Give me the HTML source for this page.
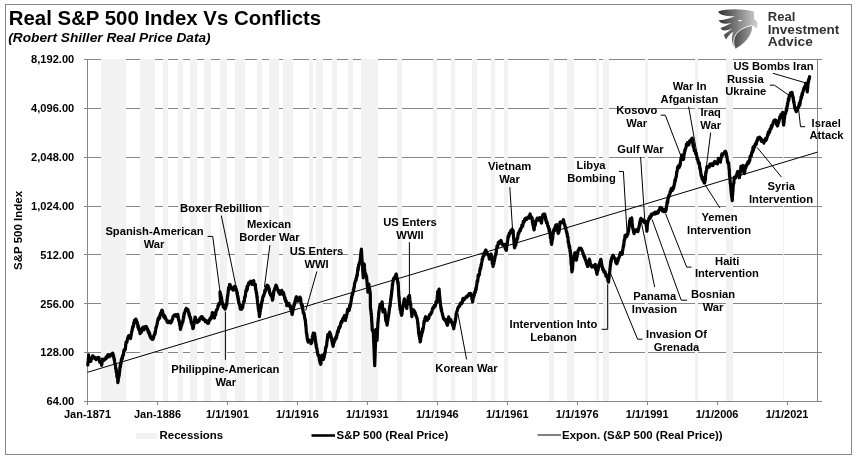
<!DOCTYPE html>
<html><head><meta charset="utf-8"><title>Real S&amp;P 500 Index Vs Conflicts</title>
<style>html,body{margin:0;padding:0;background:#fff}body{width:860px;height:459px;position:relative;overflow:hidden;font-family:"Liberation Sans",sans-serif}</style></head>
<body>
<svg width="860" height="459" viewBox="0 0 860 459" style="position:absolute;left:0;top:0;will-change:transform;opacity:0.999">
<rect x="0" y="0" width="860" height="459" fill="#fff"/>
<rect x="5.5" y="4.5" width="846" height="450" fill="#fff" stroke="#858585" stroke-width="1"/>
<line x1="84" y1="59.5" x2="822" y2="59.5" stroke="#868686" stroke-width="1"/>
<line x1="84" y1="108.5" x2="822" y2="108.5" stroke="#868686" stroke-width="1"/>
<line x1="84" y1="157.5" x2="822" y2="157.5" stroke="#868686" stroke-width="1"/>
<line x1="84" y1="206.5" x2="822" y2="206.5" stroke="#868686" stroke-width="1"/>
<line x1="84" y1="254.5" x2="822" y2="254.5" stroke="#868686" stroke-width="1"/>
<line x1="84" y1="303.5" x2="822" y2="303.5" stroke="#868686" stroke-width="1"/>
<line x1="84" y1="352.5" x2="822" y2="352.5" stroke="#868686" stroke-width="1"/>
<line x1="84" y1="401.5" x2="822" y2="401.5" stroke="#868686" stroke-width="1"/>
<rect x="101" y="59" width="25" height="342" fill="#f2f2f2"/>
<rect x="140" y="59" width="15" height="342" fill="#f2f2f2"/>
<rect x="163" y="59" width="5" height="342" fill="#f2f2f2"/>
<rect x="178" y="59" width="5" height="342" fill="#f2f2f2"/>
<rect x="190" y="59" width="7" height="342" fill="#f2f2f2"/>
<rect x="204" y="59" width="7" height="342" fill="#f2f2f2"/>
<rect x="220" y="59" width="7" height="342" fill="#f2f2f2"/>
<rect x="235" y="59" width="10" height="342" fill="#f2f2f2"/>
<rect x="257" y="59" width="5" height="342" fill="#f2f2f2"/>
<rect x="269" y="59" width="10" height="342" fill="#f2f2f2"/>
<rect x="283" y="59" width="10" height="342" fill="#f2f2f2"/>
<rect x="309" y="59" width="4" height="342" fill="#f2f2f2"/>
<rect x="316" y="59" width="7" height="342" fill="#f2f2f2"/>
<rect x="332" y="59" width="5" height="342" fill="#f2f2f2"/>
<rect x="348" y="59" width="5" height="342" fill="#f2f2f2"/>
<rect x="361" y="59" width="17" height="342" fill="#f2f2f2"/>
<rect x="397" y="59" width="5" height="342" fill="#f2f2f2"/>
<rect x="433" y="59" width="4" height="342" fill="#f2f2f2"/>
<rect x="451" y="59" width="4" height="342" fill="#f2f2f2"/>
<rect x="472" y="59" width="5" height="342" fill="#f2f2f2"/>
<rect x="491" y="59" width="4" height="342" fill="#f2f2f2"/>
<rect x="504" y="59" width="4" height="342" fill="#f2f2f2"/>
<rect x="549" y="59" width="5" height="342" fill="#f2f2f2"/>
<rect x="567" y="59" width="7" height="342" fill="#f2f2f2"/>
<rect x="596" y="59" width="3" height="342" fill="#f2f2f2"/>
<rect x="603" y="59" width="6" height="342" fill="#f2f2f2"/>
<rect x="645" y="59" width="3" height="342" fill="#f2f2f2"/>
<rect x="695" y="59" width="3" height="342" fill="#f2f2f2"/>
<rect x="726" y="59" width="7" height="342" fill="#f2f2f2"/>
<rect x="783" y="59" width="1" height="342" fill="#f2f2f2"/>
<line x1="87.5" y1="59" x2="87.5" y2="402" stroke="#868686" stroke-width="1"/>
<line x1="817.5" y1="59" x2="817.5" y2="402" stroke="#868686" stroke-width="1"/>
<line x1="84" y1="401.5" x2="822" y2="401.5" stroke="#868686" stroke-width="1"/>
<line x1="87.5" y1="401" x2="87.5" y2="405" stroke="#868686" stroke-width="1"/>
<line x1="157.5" y1="401" x2="157.5" y2="405" stroke="#868686" stroke-width="1"/>
<line x1="227.5" y1="401" x2="227.5" y2="405" stroke="#868686" stroke-width="1"/>
<line x1="297.5" y1="401" x2="297.5" y2="405" stroke="#868686" stroke-width="1"/>
<line x1="367.5" y1="401" x2="367.5" y2="405" stroke="#868686" stroke-width="1"/>
<line x1="437.5" y1="401" x2="437.5" y2="405" stroke="#868686" stroke-width="1"/>
<line x1="507.5" y1="401" x2="507.5" y2="405" stroke="#868686" stroke-width="1"/>
<line x1="577.5" y1="401" x2="577.5" y2="405" stroke="#868686" stroke-width="1"/>
<line x1="647.5" y1="401" x2="647.5" y2="405" stroke="#868686" stroke-width="1"/>
<line x1="717.5" y1="401" x2="717.5" y2="405" stroke="#868686" stroke-width="1"/>
<line x1="787.5" y1="401" x2="787.5" y2="405" stroke="#868686" stroke-width="1"/>
<line x1="87.5" y1="372.3" x2="817.5" y2="152.1" stroke="#000" stroke-width="1"/>
<path d="M87.80,364.90 L87.84,364.93 L87.89,364.15 L87.93,363.44 L87.98,362.36 L88.02,362.12 L88.07,362.82 L88.11,362.45 L88.16,362.52 L88.20,361.73 L88.24,361.20 L88.29,360.54 L88.33,358.50 L88.38,359.16 L88.42,359.03 L88.47,358.75 L88.51,356.66 L88.56,355.26 L88.60,354.95 L88.74,355.84 L88.88,357.16 L89.01,357.82 L89.15,358.84 L89.29,358.70 L89.42,359.59 L89.56,360.36 L89.70,360.16 L90.08,361.42 L90.45,361.08 L90.83,361.29 L91.20,359.86 L91.41,358.71 L91.63,358.22 L91.84,357.95 L92.06,358.21 L92.27,357.86 L92.49,356.95 L92.70,355.86 L93.13,356.16 L93.57,357.85 L94.00,357.33 L94.45,357.94 L94.90,358.53 L95.35,357.46 L95.80,358.19 L96.25,359.70 L96.70,358.03 L97.17,358.00 L97.65,358.02 L98.12,357.34 L98.60,357.86 L98.79,358.31 L98.98,357.64 L99.17,359.27 L99.36,360.24 L99.55,361.18 L99.74,362.28 L99.93,362.23 L100.12,362.21 L100.31,361.27 L100.50,362.45 L100.68,362.37 L100.87,362.66 L101.05,362.39 L101.23,362.68 L101.42,363.40 L101.60,365.44 L101.68,363.23 L101.77,362.27 L101.85,362.87 L101.94,363.94 L102.02,363.65 L102.11,361.33 L102.19,359.82 L102.28,360.60 L102.36,359.96 L102.45,359.10 L102.53,360.07 L102.62,360.50 L102.70,359.79 L103.20,359.52 L103.70,359.43 L104.20,360.20 L104.65,359.74 L105.10,359.31 L105.55,358.99 L106.00,357.05 L106.38,357.97 L106.76,358.05 L107.14,357.59 L107.52,355.19 L107.90,354.76 L108.40,356.19 L108.90,355.02 L109.40,355.80 L109.62,356.56 L109.83,354.94 L110.05,356.14 L110.27,355.77 L110.48,354.81 L110.70,354.45 L111.17,354.51 L111.65,354.01 L112.12,354.43 L112.60,353.13 L112.75,353.21 L112.90,354.61 L113.05,354.80 L113.20,354.39 L113.35,355.82 L113.50,357.22 L113.59,356.67 L113.69,355.83 L113.78,356.55 L113.88,357.14 L113.97,357.54 L114.07,359.30 L114.16,358.55 L114.26,360.14 L114.35,359.22 L114.45,359.30 L114.54,360.65 L114.64,361.99 L114.73,362.71 L114.83,362.90 L114.92,363.04 L115.02,363.33 L115.11,364.02 L115.21,364.01 L115.30,364.56 L115.37,365.31 L115.44,365.48 L115.50,366.39 L115.57,366.94 L115.64,368.59 L115.71,368.38 L115.78,367.88 L115.85,367.85 L115.91,368.33 L115.98,369.54 L116.05,369.42 L116.12,370.13 L116.19,371.88 L116.25,369.58 L116.32,369.66 L116.39,370.99 L116.46,372.05 L116.53,372.71 L116.60,372.76 L116.66,373.85 L116.73,374.37 L116.80,374.23 L116.88,376.69 L116.95,376.62 L117.02,376.07 L117.10,376.34 L117.17,376.60 L117.25,377.09 L117.33,375.58 L117.40,376.61 L117.47,378.57 L117.55,378.14 L117.62,378.98 L117.70,380.46 L117.78,381.41 L117.85,382.64 L117.92,381.01 L118.00,381.39 L118.07,380.88 L118.14,381.15 L118.21,381.46 L118.28,378.44 L118.34,379.54 L118.41,377.94 L118.48,378.53 L118.55,376.92 L118.62,377.15 L118.69,377.86 L118.76,376.98 L118.82,376.56 L118.89,376.59 L118.96,375.88 L119.03,375.10 L119.10,375.73 L119.17,375.50 L119.24,374.10 L119.30,375.11 L119.37,372.80 L119.44,372.94 L119.51,371.88 L119.58,371.40 L119.65,371.38 L119.71,370.78 L119.78,370.57 L119.85,368.54 L119.92,367.23 L119.99,367.97 L120.05,366.93 L120.12,366.10 L120.19,365.08 L120.26,366.47 L120.33,366.62 L120.40,367.06 L120.46,365.20 L120.53,364.70 L120.60,363.32 L120.69,363.86 L120.79,364.59 L120.88,362.83 L120.97,363.58 L121.06,363.34 L121.16,362.08 L121.25,359.76 L121.34,360.94 L121.44,360.20 L121.53,359.18 L121.62,359.20 L121.71,359.01 L121.81,359.55 L121.90,357.66 L122.06,358.15 L122.23,358.50 L122.39,358.48 L122.55,356.99 L122.71,355.53 L122.88,355.93 L123.04,355.24 L123.20,354.68 L123.37,355.18 L123.53,353.91 L123.70,351.41 L123.87,351.34 L124.03,349.93 L124.20,351.06 L124.37,351.08 L124.53,350.16 L124.70,349.92 L124.80,350.24 L124.90,349.61 L125.00,350.04 L125.10,348.97 L125.20,349.04 L125.30,349.23 L125.40,349.05 L125.50,347.11 L125.60,347.06 L125.70,344.65 L125.80,343.74 L125.90,342.53 L126.00,343.85 L126.10,342.56 L126.23,342.60 L126.36,342.28 L126.49,342.02 L126.62,341.23 L126.75,341.24 L126.88,342.26 L127.01,341.24 L127.14,340.86 L127.27,340.81 L127.40,339.63 L127.66,337.94 L127.92,337.36 L128.18,338.11 L128.44,336.18 L128.70,335.74 L129.17,337.21 L129.65,337.94 L130.12,337.81 L130.60,338.46 L130.72,337.74 L130.83,336.08 L130.95,334.66 L131.06,334.39 L131.18,335.27 L131.29,334.37 L131.41,333.41 L131.52,332.77 L131.64,331.61 L131.75,331.89 L131.87,330.99 L131.98,331.50 L132.10,329.50 L132.19,330.24 L132.28,329.67 L132.38,328.12 L132.47,329.16 L132.56,328.73 L132.65,326.75 L132.74,326.52 L132.83,327.10 L132.92,326.62 L133.02,327.12 L133.11,327.16 L133.20,326.90 L133.31,326.29 L133.42,326.55 L133.53,325.95 L133.64,325.24 L133.75,322.66 L133.86,323.37 L133.97,323.88 L134.08,322.69 L134.19,321.70 L134.30,322.84 L134.51,320.35 L134.73,320.53 L134.94,321.96 L135.16,319.90 L135.37,319.84 L135.59,320.54 L135.80,319.14 L135.94,319.63 L136.08,320.39 L136.21,319.59 L136.35,320.01 L136.49,320.76 L136.62,321.80 L136.76,321.91 L136.90,322.06 L137.03,321.69 L137.16,322.20 L137.29,323.68 L137.42,324.07 L137.55,323.74 L137.68,323.77 L137.82,326.75 L137.95,327.39 L138.08,327.56 L138.21,325.31 L138.34,326.80 L138.47,327.72 L138.60,329.38 L138.76,329.48 L138.92,329.35 L139.07,329.93 L139.23,328.50 L139.39,330.26 L139.55,330.86 L139.71,330.58 L139.87,332.22 L140.03,333.69 L140.18,332.17 L140.34,332.11 L140.50,333.02 L140.65,332.77 L140.80,331.98 L140.95,330.89 L141.10,332.54 L141.25,332.39 L141.40,330.36 L141.55,328.93 L141.70,330.35 L141.85,330.37 L142.00,330.85 L142.15,330.11 L142.30,328.19 L142.68,328.65 L143.06,327.16 L143.44,327.63 L143.82,328.60 L144.20,329.76 L144.36,328.73 L144.52,328.42 L144.69,328.50 L144.85,328.27 L145.01,328.13 L145.18,327.50 L145.34,326.52 L145.50,326.65 L145.76,326.80 L146.01,326.37 L146.27,326.47 L146.53,327.20 L146.79,327.69 L147.04,328.35 L147.30,328.77 L147.45,329.36 L147.59,329.62 L147.74,329.08 L147.88,330.30 L148.03,331.66 L148.18,332.12 L148.32,332.07 L148.47,332.74 L148.62,332.19 L148.76,331.34 L148.91,332.62 L149.05,332.73 L149.20,334.30 L149.39,333.95 L149.57,333.22 L149.76,333.81 L149.95,336.41 L150.14,336.50 L150.32,335.98 L150.51,336.38 L150.70,337.82 L151.17,338.34 L151.65,338.37 L152.12,339.42 L152.60,339.38 L152.80,338.38 L153.00,338.13 L153.20,338.64 L153.40,338.19 L153.60,337.81 L153.80,335.75 L154.00,335.17 L154.20,335.36 L154.40,334.47 L154.50,334.84 L154.60,334.47 L154.70,334.31 L154.80,333.15 L154.90,334.29 L155.00,333.85 L155.10,332.29 L155.20,331.48 L155.30,332.52 L155.40,330.86 L155.50,330.71 L155.60,330.51 L155.70,329.44 L155.80,327.72 L155.90,327.65 L156.00,327.54 L156.10,327.89 L156.20,327.61 L156.30,326.66 L156.45,326.58 L156.60,326.08 L156.75,325.33 L156.90,324.60 L157.05,323.76 L157.20,323.82 L157.35,322.27 L157.50,321.55 L157.65,321.45 L157.80,320.03 L157.95,319.85 L158.10,318.40 L158.28,318.38 L158.45,319.16 L158.63,319.39 L158.81,318.83 L158.98,318.19 L159.16,316.72 L159.34,318.26 L159.52,317.89 L159.69,317.94 L159.87,316.22 L160.05,315.63 L160.22,313.83 L160.40,314.69 L160.61,315.12 L160.83,312.95 L161.04,313.02 L161.26,313.42 L161.47,311.58 L161.69,310.40 L161.90,310.11 L162.16,310.91 L162.41,310.92 L162.67,312.24 L162.93,313.31 L163.19,314.39 L163.44,315.21 L163.70,316.47 L163.87,317.10 L164.05,315.68 L164.22,315.73 L164.39,315.50 L164.56,315.55 L164.74,316.56 L164.91,317.36 L165.08,318.38 L165.25,317.49 L165.43,317.46 L165.60,318.59 L165.88,319.22 L166.16,319.65 L166.44,320.26 L166.72,320.21 L167.00,321.51 L167.28,322.12 L167.56,322.28 L167.84,322.07 L168.12,322.53 L168.40,321.20 L168.88,321.37 L169.36,322.27 L169.84,321.55 L170.32,322.49 L170.80,322.97 L170.97,321.60 L171.14,321.55 L171.31,321.27 L171.48,321.53 L171.65,321.60 L171.82,320.94 L171.98,319.74 L172.15,319.44 L172.32,319.14 L172.49,319.42 L172.66,319.03 L172.83,317.82 L173.00,316.46 L173.38,316.34 L173.76,315.82 L174.14,315.07 L174.52,315.27 L174.90,314.91 L175.27,315.09 L175.63,315.39 L176.00,314.68 L176.37,316.31 L176.73,314.99 L177.10,315.25 L177.29,315.24 L177.47,316.23 L177.66,314.24 L177.85,314.62 L178.04,315.83 L178.22,316.99 L178.41,319.19 L178.60,319.03 L178.68,319.88 L178.77,320.15 L178.85,320.63 L178.93,320.76 L179.01,320.50 L179.10,321.08 L179.18,320.35 L179.26,321.93 L179.34,321.27 L179.43,322.10 L179.51,324.23 L179.59,323.75 L179.67,323.88 L179.76,325.05 L179.84,325.00 L179.92,324.52 L180.00,325.29 L180.09,326.17 L180.17,326.95 L180.25,326.42 L180.33,328.31 L180.42,329.48 L180.50,329.03 L180.64,328.30 L180.78,327.16 L180.92,327.79 L181.05,326.27 L181.19,326.33 L181.33,325.26 L181.47,324.31 L181.61,324.70 L181.75,325.21 L181.88,324.24 L182.02,322.98 L182.16,323.27 L182.30,322.56 L182.42,322.22 L182.54,322.79 L182.66,322.58 L182.78,320.96 L182.89,322.07 L183.01,320.67 L183.13,320.31 L183.25,318.78 L183.37,318.20 L183.49,316.33 L183.61,317.88 L183.72,318.19 L183.84,316.12 L183.96,314.55 L184.08,313.38 L184.20,314.74 L184.35,314.02 L184.49,313.74 L184.64,313.19 L184.79,312.85 L184.93,311.70 L185.08,311.75 L185.23,310.43 L185.37,310.59 L185.52,310.78 L185.67,310.81 L185.81,310.09 L185.96,308.96 L186.11,308.99 L186.25,308.30 L186.40,309.34 L186.67,309.93 L186.93,309.75 L187.20,309.55 L187.47,309.45 L187.73,309.39 L188.00,310.00 L188.27,311.03 L188.53,311.96 L188.80,312.70 L188.91,314.52 L189.02,313.52 L189.13,313.73 L189.23,315.97 L189.34,314.00 L189.45,314.18 L189.56,315.02 L189.67,315.67 L189.78,316.42 L189.89,316.53 L190.00,317.26 L190.10,317.62 L190.21,318.58 L190.32,317.21 L190.43,317.45 L190.54,318.48 L190.65,318.43 L190.76,318.60 L190.87,320.20 L190.97,320.28 L191.08,321.53 L191.19,322.51 L191.30,322.90 L191.44,323.46 L191.58,323.48 L191.72,322.66 L191.85,323.49 L191.99,324.52 L192.13,324.50 L192.27,325.03 L192.41,326.18 L192.55,325.72 L192.68,326.86 L192.82,328.65 L192.96,327.92 L193.10,328.26 L193.19,327.54 L193.28,328.27 L193.37,327.51 L193.46,327.35 L193.55,325.82 L193.64,325.30 L193.73,324.82 L193.82,322.97 L193.91,324.29 L194.00,324.38 L194.10,322.15 L194.19,322.69 L194.28,322.10 L194.37,322.03 L194.46,321.73 L194.55,319.89 L194.64,319.70 L194.73,320.73 L194.82,319.48 L194.91,318.23 L195.00,317.08 L195.36,317.18 L195.72,318.64 L196.08,320.67 L196.44,320.97 L196.80,321.16 L197.26,322.60 L197.72,321.25 L198.18,320.38 L198.64,320.85 L199.10,321.12 L199.38,319.66 L199.66,318.57 L199.94,318.94 L200.22,318.95 L200.50,317.55 L200.78,317.48 L201.06,317.01 L201.34,317.36 L201.62,316.94 L201.90,316.55 L202.26,316.72 L202.62,318.09 L202.98,319.28 L203.34,318.72 L203.70,319.54 L204.08,318.90 L204.46,319.37 L204.84,320.34 L205.22,321.64 L205.60,321.04 L205.87,321.15 L206.13,321.61 L206.40,320.71 L206.67,321.59 L206.93,321.72 L207.20,322.80 L207.47,322.40 L207.73,321.69 L208.00,323.08 L208.17,323.36 L208.34,322.68 L208.51,323.25 L208.68,322.45 L208.85,321.55 L209.02,321.72 L209.18,320.01 L209.35,319.57 L209.52,319.66 L209.69,320.19 L209.86,319.50 L210.03,319.29 L210.20,318.23 L210.41,318.22 L210.62,319.09 L210.83,317.54 L211.04,318.90 L211.25,317.08 L211.45,316.42 L211.66,315.99 L211.87,316.24 L212.08,314.40 L212.29,312.53 L212.50,313.44 L212.76,314.70 L213.01,315.44 L213.27,317.26 L213.53,316.86 L213.79,316.85 L214.04,317.55 L214.30,317.67 L214.46,318.11 L214.62,315.87 L214.78,315.13 L214.94,312.87 L215.10,314.02 L215.26,313.52 L215.42,314.08 L215.58,315.16 L215.74,313.85 L215.90,312.75 L216.06,311.75 L216.22,310.74 L216.38,310.15 L216.54,310.63 L216.70,310.23 L216.86,309.81 L217.02,309.18 L217.17,309.49 L217.33,309.12 L217.49,308.21 L217.65,308.14 L217.81,307.25 L217.97,305.77 L218.12,306.80 L218.28,306.38 L218.44,304.83 L218.60,305.37 L218.87,304.94 L219.14,303.02 L219.41,304.28 L219.69,303.79 L219.96,303.78 L220.23,303.05 L220.50,302.20 L220.48,300.39 L220.46,301.18 L220.43,300.67 L220.41,299.93 L220.39,299.83 L220.37,299.35 L220.35,299.36 L220.33,298.33 L220.30,297.83 L220.28,295.69 L220.26,295.67 L220.24,296.31 L220.22,296.99 L220.20,295.81 L220.17,295.16 L220.15,295.93 L220.13,294.65 L220.11,294.58 L220.09,295.08 L220.07,293.86 L220.04,293.92 L220.02,292.23 L220.00,291.82 L220.09,292.06 L220.18,292.54 L220.27,293.80 L220.36,295.37 L220.45,294.35 L220.54,294.05 L220.63,294.93 L220.72,294.40 L220.81,295.52 L220.90,296.40 L221.00,296.41 L221.09,297.25 L221.18,296.28 L221.27,297.76 L221.36,296.96 L221.45,297.39 L221.54,297.93 L221.63,298.55 L221.72,300.08 L221.81,300.52 L221.90,300.57 L222.04,301.53 L222.18,303.07 L222.32,302.87 L222.45,303.24 L222.59,304.32 L222.73,304.35 L222.87,303.34 L223.01,305.94 L223.15,306.78 L223.28,304.70 L223.42,305.28 L223.56,306.16 L223.70,307.26 L223.97,307.80 L224.24,307.54 L224.51,306.96 L224.79,307.73 L225.06,309.06 L225.33,308.31 L225.60,308.12 L225.68,308.12 L225.77,306.40 L225.85,306.57 L225.93,306.31 L226.02,306.66 L226.10,305.73 L226.18,304.87 L226.27,304.57 L226.35,304.47 L226.43,303.72 L226.52,303.63 L226.60,303.95 L226.68,304.26 L226.77,304.63 L226.85,302.66 L226.93,301.66 L227.02,299.27 L227.10,301.20 L227.15,299.99 L227.21,299.65 L227.26,299.70 L227.32,298.04 L227.37,298.35 L227.43,297.93 L227.48,296.07 L227.53,296.51 L227.59,297.25 L227.64,295.04 L227.70,295.73 L227.75,295.42 L227.80,295.26 L227.86,294.93 L227.91,295.22 L227.97,293.97 L228.02,293.94 L228.07,292.70 L228.13,292.71 L228.18,291.29 L228.24,290.86 L228.29,291.86 L228.35,291.19 L228.40,290.14 L228.51,288.58 L228.62,287.78 L228.72,287.91 L228.83,288.36 L228.94,287.99 L229.05,287.66 L229.16,286.82 L229.27,287.24 L229.38,285.89 L229.48,284.82 L229.59,285.15 L229.70,284.47 L229.85,284.54 L230.00,284.56 L230.15,285.02 L230.30,286.18 L230.45,286.81 L230.60,286.13 L230.75,287.26 L230.90,287.89 L231.05,287.51 L231.20,288.91 L231.65,288.59 L232.10,288.38 L232.55,289.15 L233.00,289.99 L233.27,288.47 L233.54,288.34 L233.81,287.05 L234.09,288.67 L234.36,287.18 L234.63,287.50 L234.90,286.05 L235.04,287.05 L235.18,288.86 L235.32,286.35 L235.45,286.82 L235.59,288.00 L235.73,288.38 L235.87,288.33 L236.01,290.72 L236.15,290.60 L236.28,289.36 L236.42,290.85 L236.56,289.83 L236.70,291.72 L236.79,291.61 L236.88,292.32 L236.97,293.78 L237.06,293.89 L237.15,292.96 L237.24,292.41 L237.33,294.57 L237.42,295.61 L237.51,295.15 L237.60,296.42 L237.70,297.03 L237.79,297.69 L237.88,295.96 L237.97,296.75 L238.06,298.33 L238.15,299.27 L238.24,300.10 L238.33,298.12 L238.42,299.31 L238.51,300.41 L238.60,302.84 L238.70,301.61 L238.80,301.63 L238.90,302.12 L239.00,303.26 L239.10,303.04 L239.20,304.37 L239.30,303.78 L239.40,304.48 L239.50,304.44 L239.60,305.16 L239.70,305.09 L239.80,304.53 L239.90,306.54 L240.00,307.23 L240.10,307.12 L240.20,307.86 L240.30,309.09 L240.40,308.41 L240.50,308.92 L240.95,309.25 L241.40,309.31 L241.85,308.57 L242.30,306.67 L242.41,307.94 L242.52,307.72 L242.64,307.15 L242.75,306.41 L242.86,306.23 L242.97,305.39 L243.08,304.26 L243.19,303.67 L243.31,303.25 L243.42,302.81 L243.53,301.94 L243.64,302.68 L243.75,301.35 L243.86,301.98 L243.98,300.80 L244.09,301.03 L244.20,301.77 L244.29,301.05 L244.37,299.72 L244.46,299.40 L244.54,299.11 L244.63,297.26 L244.71,296.94 L244.80,297.17 L244.89,296.59 L244.97,296.51 L245.06,296.78 L245.14,296.76 L245.23,296.66 L245.31,296.15 L245.40,294.98 L245.49,294.35 L245.57,293.61 L245.66,292.97 L245.74,292.52 L245.83,290.86 L245.91,290.84 L246.00,290.87 L246.15,289.96 L246.29,290.01 L246.44,290.27 L246.58,289.68 L246.73,290.93 L246.88,287.73 L247.02,287.67 L247.17,286.17 L247.32,287.36 L247.46,289.14 L247.61,285.86 L247.75,285.94 L247.90,286.09 L248.11,285.36 L248.32,285.44 L248.53,283.10 L248.74,284.06 L248.96,284.03 L249.17,283.55 L249.38,282.63 L249.59,282.90 L249.80,281.97 L250.17,282.57 L250.53,282.46 L250.90,281.18 L251.27,282.36 L251.63,283.33 L252.00,284.45 L252.21,283.20 L252.43,283.00 L252.64,283.22 L252.86,282.79 L253.07,283.24 L253.29,283.80 L253.50,281.74 L253.68,280.49 L253.86,282.20 L254.04,283.87 L254.22,284.52 L254.40,285.00 L254.58,284.34 L254.76,284.11 L254.94,285.46 L255.12,284.98 L255.30,284.22 L255.37,284.64 L255.43,287.83 L255.50,289.33 L255.56,288.31 L255.63,287.92 L255.69,288.66 L255.76,288.50 L255.82,290.24 L255.89,290.30 L255.96,289.75 L256.02,291.53 L256.09,291.23 L256.15,291.89 L256.22,292.28 L256.28,292.46 L256.35,293.26 L256.41,293.11 L256.48,292.32 L256.54,292.38 L256.61,292.83 L256.68,293.63 L256.74,294.86 L256.81,295.79 L256.87,296.91 L256.94,297.38 L257.00,297.12 L257.07,297.25 L257.13,296.45 L257.20,297.71 L257.26,299.12 L257.33,300.14 L257.39,300.39 L257.45,300.69 L257.51,301.93 L257.58,302.09 L257.64,302.95 L257.70,303.51 L257.77,303.72 L257.83,304.91 L257.89,304.28 L257.95,304.31 L258.02,304.17 L258.08,304.31 L258.14,306.44 L258.21,307.98 L258.27,307.66 L258.33,308.11 L258.39,309.05 L258.46,309.47 L258.52,310.22 L258.58,308.90 L258.65,308.86 L258.71,309.90 L258.77,311.45 L258.83,311.46 L258.90,310.91 L258.96,311.21 L259.02,311.33 L259.09,311.45 L259.15,313.58 L259.21,313.27 L259.27,313.82 L259.34,316.01 L259.40,316.65 L259.48,315.63 L259.57,314.13 L259.65,313.90 L259.73,314.53 L259.81,313.89 L259.90,313.84 L259.98,312.69 L260.06,312.19 L260.14,311.15 L260.23,310.86 L260.31,311.20 L260.39,309.03 L260.47,308.71 L260.56,308.57 L260.64,307.66 L260.72,307.16 L260.80,307.54 L260.89,308.51 L260.97,307.76 L261.05,306.91 L261.13,304.76 L261.22,306.12 L261.30,305.20 L261.41,304.42 L261.53,302.93 L261.64,302.75 L261.76,301.63 L261.87,301.74 L261.99,301.91 L262.10,301.46 L262.21,301.21 L262.33,299.98 L262.44,300.91 L262.56,299.57 L262.67,297.72 L262.79,297.79 L262.90,297.17 L263.01,296.44 L263.13,296.36 L263.24,296.62 L263.36,295.40 L263.47,295.36 L263.59,296.37 L263.70,296.14 L263.86,295.14 L264.02,294.60 L264.18,293.91 L264.33,293.37 L264.49,293.49 L264.65,292.70 L264.81,290.23 L264.97,290.55 L265.12,289.83 L265.28,290.45 L265.44,289.58 L265.60,289.50 L265.86,290.91 L266.11,288.96 L266.37,287.65 L266.63,286.52 L266.89,285.60 L267.14,285.20 L267.40,286.03 L267.67,286.32 L267.94,285.69 L268.21,286.00 L268.49,287.83 L268.76,287.92 L269.03,288.47 L269.30,289.51 L269.46,291.12 L269.62,292.67 L269.77,293.02 L269.93,292.72 L270.09,292.79 L270.25,294.31 L270.41,295.01 L270.57,294.28 L270.73,294.69 L270.88,294.98 L271.04,295.17 L271.20,295.04 L271.36,294.54 L271.52,295.11 L271.69,294.84 L271.85,297.08 L272.01,297.99 L272.18,297.33 L272.34,299.23 L272.50,300.09 L272.59,297.63 L272.69,299.02 L272.78,298.76 L272.88,299.23 L272.97,296.84 L273.06,296.71 L273.16,296.34 L273.25,295.75 L273.34,295.19 L273.44,295.37 L273.53,293.25 L273.62,292.07 L273.72,291.09 L273.81,291.00 L273.91,290.70 L274.00,291.09 L274.13,291.02 L274.26,290.59 L274.39,289.58 L274.51,289.01 L274.64,289.58 L274.77,289.54 L274.90,288.78 L275.03,287.82 L275.16,288.57 L275.29,287.07 L275.41,287.02 L275.54,287.18 L275.67,285.95 L275.80,285.91 L275.97,285.05 L276.15,286.45 L276.32,286.76 L276.49,285.72 L276.66,287.12 L276.84,286.85 L277.01,288.61 L277.18,288.22 L277.35,288.61 L277.53,289.37 L277.70,289.49 L277.88,290.25 L278.06,290.23 L278.24,291.40 L278.42,291.72 L278.60,292.26 L278.78,290.44 L278.96,292.72 L279.14,293.30 L279.32,292.39 L279.50,293.58 L279.71,293.86 L279.92,294.30 L280.13,292.67 L280.34,293.66 L280.56,292.67 L280.77,293.93 L280.98,292.46 L281.19,292.12 L281.40,290.92 L281.67,290.30 L281.94,291.88 L282.21,292.78 L282.49,293.95 L282.76,294.24 L283.03,293.45 L283.30,292.34 L283.44,292.73 L283.58,293.13 L283.72,293.43 L283.85,294.89 L283.99,295.68 L284.13,295.84 L284.27,296.47 L284.41,296.76 L284.55,297.40 L284.68,298.37 L284.82,299.26 L284.96,298.64 L285.10,297.85 L285.26,299.95 L285.42,300.28 L285.58,301.44 L285.73,300.13 L285.89,300.64 L286.05,301.41 L286.21,300.89 L286.37,301.53 L286.52,303.07 L286.68,304.40 L286.84,305.75 L287.00,304.76 L287.45,303.31 L287.90,303.93 L288.35,304.50 L288.80,304.12 L289.00,303.33 L289.20,304.74 L289.40,305.74 L289.60,306.31 L289.80,306.01 L290.00,306.68 L290.00,306.98 L290.15,306.62 L290.29,305.61 L290.44,306.96 L290.59,308.01 L290.73,308.42 L290.88,309.53 L291.03,309.17 L291.17,309.57 L291.32,309.81 L291.47,310.82 L291.61,312.38 L291.76,311.98 L291.91,313.77 L292.05,314.37 L292.20,314.48 L292.31,313.70 L292.42,313.92 L292.54,312.39 L292.65,311.40 L292.76,309.92 L292.87,310.11 L292.98,310.70 L293.09,310.19 L293.21,309.62 L293.32,308.62 L293.43,308.16 L293.54,306.46 L293.65,307.27 L293.76,306.37 L293.88,305.13 L293.99,304.52 L294.10,303.94 L294.24,304.74 L294.38,305.15 L294.52,303.28 L294.66,303.85 L294.81,303.94 L294.95,302.63 L295.09,301.01 L295.23,300.50 L295.37,300.11 L295.51,300.47 L295.65,299.92 L295.79,298.11 L295.94,298.70 L296.08,297.43 L296.22,298.46 L296.36,297.17 L296.50,296.67 L296.71,296.92 L296.92,297.48 L297.13,299.43 L297.34,300.33 L297.56,300.82 L297.77,301.05 L297.98,299.89 L298.19,300.24 L298.40,300.60 L298.66,299.84 L298.91,300.41 L299.17,299.55 L299.43,298.93 L299.69,298.14 L299.94,297.00 L300.20,298.01 L300.31,299.81 L300.42,300.09 L300.54,299.53 L300.65,298.36 L300.76,299.89 L300.87,301.74 L300.98,302.24 L301.09,303.21 L301.21,304.37 L301.32,304.94 L301.43,304.21 L301.54,305.18 L301.65,305.70 L301.76,304.36 L301.88,304.72 L301.99,304.31 L302.10,305.32 L302.22,306.63 L302.34,306.27 L302.46,305.50 L302.58,307.92 L302.69,308.74 L302.81,310.26 L302.93,309.10 L303.05,310.55 L303.17,312.35 L303.29,312.93 L303.41,312.28 L303.52,312.51 L303.64,312.51 L303.76,313.62 L303.88,314.48 L304.00,314.40 L304.11,313.44 L304.22,314.77 L304.32,314.76 L304.43,315.83 L304.54,316.34 L304.65,317.90 L304.76,318.59 L304.87,317.93 L304.98,318.40 L305.08,319.99 L305.19,319.26 L305.30,319.83 L305.34,320.95 L305.38,321.82 L305.42,321.93 L305.46,320.76 L305.50,320.36 L305.54,321.54 L305.57,322.51 L305.61,324.95 L305.65,323.82 L305.69,324.98 L305.73,325.54 L305.77,324.13 L305.81,324.24 L305.85,325.28 L305.89,325.55 L305.93,326.17 L305.97,327.21 L306.01,326.98 L306.05,328.07 L306.09,328.01 L306.12,328.26 L306.16,329.46 L306.20,329.45 L306.24,330.33 L306.28,332.06 L306.32,331.98 L306.36,332.01 L306.40,332.93 L306.48,332.78 L306.56,334.05 L306.64,333.10 L306.72,334.28 L306.81,334.26 L306.89,334.22 L306.97,336.44 L307.05,335.81 L307.13,337.72 L307.21,338.12 L307.29,339.18 L307.38,338.06 L307.46,339.37 L307.54,340.50 L307.62,340.10 L307.70,340.07 L308.15,342.03 L308.60,341.44 L309.05,340.75 L309.50,340.31 L309.88,341.15 L310.26,341.69 L310.64,342.02 L311.02,343.58 L311.40,342.99 L311.52,342.63 L311.64,343.01 L311.76,341.06 L311.88,341.40 L311.99,342.00 L312.11,339.61 L312.23,338.29 L312.35,337.40 L312.47,336.14 L312.59,336.98 L312.71,335.41 L312.82,336.20 L312.94,337.17 L313.06,335.09 L313.18,334.75 L313.30,333.10 L313.73,334.27 L314.17,333.58 L314.60,333.44 L314.66,334.24 L314.72,335.28 L314.78,335.35 L314.83,335.89 L314.89,335.95 L314.95,336.71 L315.01,336.32 L315.07,337.29 L315.12,336.46 L315.18,337.35 L315.24,339.94 L315.30,340.13 L315.36,339.38 L315.42,340.38 L315.48,340.16 L315.53,339.72 L315.59,340.40 L315.65,342.15 L315.71,343.04 L315.77,343.36 L315.82,343.09 L315.88,343.03 L315.94,345.11 L316.00,345.60 L316.09,345.11 L316.18,344.13 L316.27,344.43 L316.36,347.77 L316.45,346.95 L316.54,347.54 L316.63,348.29 L316.72,348.61 L316.81,348.90 L316.90,348.39 L317.00,348.56 L317.09,351.01 L317.18,350.64 L317.27,351.89 L317.36,350.78 L317.45,351.48 L317.54,352.49 L317.63,353.86 L317.72,353.11 L317.81,354.25 L317.90,354.91 L318.03,354.58 L318.15,355.55 L318.28,355.19 L318.41,355.27 L318.53,356.12 L318.66,355.00 L318.79,356.29 L318.91,356.50 L319.04,356.44 L319.17,357.42 L319.29,359.09 L319.42,359.28 L319.55,360.90 L319.67,360.08 L319.80,359.70 L319.95,361.97 L320.10,362.52 L320.25,363.47 L320.40,362.80 L320.55,363.93 L320.70,364.33 L320.78,364.14 L320.86,363.34 L320.94,363.62 L321.02,362.10 L321.11,360.81 L321.19,359.49 L321.27,360.63 L321.35,359.56 L321.43,358.52 L321.51,357.82 L321.59,357.62 L321.68,356.65 L321.76,356.68 L321.84,356.22 L321.92,355.82 L322.00,355.07 L322.19,356.16 L322.38,356.58 L322.56,357.47 L322.75,358.27 L322.94,358.99 L323.12,357.60 L323.31,358.35 L323.50,358.77 L323.59,359.51 L323.69,357.86 L323.78,357.43 L323.88,357.31 L323.97,357.01 L324.06,357.68 L324.16,356.71 L324.25,357.07 L324.34,355.15 L324.44,353.62 L324.53,354.95 L324.62,354.86 L324.72,354.64 L324.81,354.03 L324.91,353.76 L325.00,352.07 L325.08,352.63 L325.16,351.56 L325.24,351.96 L325.32,351.26 L325.41,349.04 L325.49,348.15 L325.57,349.35 L325.65,348.81 L325.73,348.09 L325.81,347.99 L325.89,347.20 L325.98,346.45 L326.06,346.35 L326.14,346.11 L326.22,346.85 L326.30,345.88 L326.38,346.61 L326.46,346.41 L326.53,345.97 L326.61,345.42 L326.69,344.18 L326.77,343.31 L326.85,342.41 L326.93,341.25 L327.00,340.93 L327.08,340.11 L327.16,341.25 L327.24,340.81 L327.32,339.60 L327.40,337.57 L327.47,337.72 L327.55,337.32 L327.63,336.38 L327.71,335.62 L327.79,334.67 L327.87,335.62 L327.94,335.45 L328.02,337.23 L328.10,335.96 L328.37,335.01 L328.64,335.56 L328.91,334.66 L329.19,334.00 L329.46,333.04 L329.73,332.14 L330.00,333.13 L330.11,333.97 L330.22,335.20 L330.32,334.46 L330.43,334.56 L330.54,334.11 L330.65,335.53 L330.76,334.66 L330.87,335.94 L330.98,337.26 L331.08,338.45 L331.19,337.47 L331.30,338.73 L331.42,338.21 L331.54,338.10 L331.66,337.80 L331.77,339.80 L331.89,341.49 L332.01,340.87 L332.13,340.60 L332.25,340.99 L332.37,343.66 L332.49,344.15 L332.61,343.41 L332.73,342.22 L332.84,342.66 L332.96,344.58 L333.08,346.37 L333.20,345.89 L333.35,344.58 L333.50,343.79 L333.65,342.06 L333.80,343.11 L333.95,341.91 L334.10,342.73 L334.25,340.80 L334.40,339.87 L334.55,340.38 L334.70,339.62 L334.90,340.27 L335.10,339.83 L335.30,338.47 L335.50,338.95 L335.70,339.21 L335.90,336.99 L336.10,338.53 L336.30,338.15 L336.50,337.96 L336.63,335.58 L336.75,334.97 L336.88,334.73 L337.01,335.52 L337.13,333.76 L337.26,333.05 L337.39,331.72 L337.51,332.04 L337.64,332.47 L337.77,330.92 L337.89,330.72 L338.02,331.29 L338.15,332.25 L338.27,331.85 L338.40,330.67 L338.54,329.08 L338.68,328.16 L338.82,327.65 L338.96,327.78 L339.10,327.48 L339.30,328.52 L339.50,327.83 L339.70,326.19 L339.90,327.16 L340.10,327.05 L340.30,326.13 L340.50,324.79 L340.70,322.97 L340.90,322.45 L341.05,323.48 L341.19,322.50 L341.34,321.36 L341.48,321.74 L341.63,321.79 L341.78,321.90 L341.92,321.81 L342.07,322.17 L342.22,320.39 L342.36,320.66 L342.51,319.06 L342.65,319.31 L342.80,318.85 L343.01,318.48 L343.23,318.67 L343.44,317.82 L343.66,318.06 L343.87,317.83 L344.09,316.94 L344.30,315.71 L344.46,315.58 L344.62,315.89 L344.79,316.52 L344.95,317.22 L345.11,320.11 L345.28,320.13 L345.44,320.45 L345.60,319.56 L345.71,318.46 L345.83,317.96 L345.94,317.88 L346.05,316.66 L346.16,317.87 L346.27,316.61 L346.39,317.00 L346.50,314.32 L346.61,314.47 L346.73,314.57 L346.84,314.35 L346.95,314.35 L347.06,313.88 L347.17,313.32 L347.29,311.19 L347.40,310.74 L347.61,309.49 L347.82,310.52 L348.03,310.65 L348.24,310.14 L348.46,309.18 L348.67,308.65 L348.88,310.09 L349.09,310.61 L349.30,309.30 L349.41,309.42 L349.52,307.03 L349.64,305.24 L349.75,305.20 L349.86,304.67 L349.97,304.43 L350.08,304.69 L350.19,306.86 L350.31,304.96 L350.42,304.27 L350.53,303.88 L350.64,303.22 L350.75,303.41 L350.86,303.99 L350.98,301.73 L351.09,301.39 L351.20,300.68 L351.29,300.57 L351.39,298.83 L351.48,297.49 L351.58,296.93 L351.67,297.85 L351.77,297.89 L351.86,297.62 L351.96,295.35 L352.05,295.48 L352.15,295.04 L352.24,294.09 L352.34,293.76 L352.43,294.65 L352.53,294.82 L352.62,294.26 L352.72,294.18 L352.81,293.06 L352.91,292.78 L353.00,292.39 L353.08,292.37 L353.16,291.66 L353.24,291.00 L353.32,290.44 L353.41,289.52 L353.49,291.07 L353.57,290.36 L353.65,289.70 L353.73,290.34 L353.81,289.88 L353.89,287.24 L353.98,287.36 L354.06,287.33 L354.14,287.93 L354.22,287.56 L354.30,286.76 L354.45,284.57 L354.60,283.40 L354.75,283.44 L354.90,283.43 L355.05,282.02 L355.20,281.53 L355.35,281.04 L355.50,280.92 L355.65,280.86 L355.80,280.12 L355.89,278.77 L355.99,279.76 L356.08,280.38 L356.18,279.18 L356.27,279.19 L356.36,278.54 L356.46,278.14 L356.55,277.57 L356.64,276.07 L356.74,276.09 L356.83,276.24 L356.93,274.61 L357.02,275.76 L357.11,275.93 L357.21,275.46 L357.30,275.00 L357.38,274.18 L357.46,272.67 L357.54,271.42 L357.62,270.36 L357.71,270.30 L357.79,269.94 L357.87,270.09 L357.95,267.84 L358.03,269.81 L358.11,270.38 L358.19,268.95 L358.28,268.51 L358.36,267.90 L358.44,267.20 L358.52,266.22 L358.60,265.55 L358.76,264.40 L358.93,264.35 L359.09,263.94 L359.25,263.78 L359.41,262.55 L359.57,262.37 L359.74,262.06 L359.90,262.11 L359.96,260.63 L360.02,260.77 L360.07,261.09 L360.13,260.75 L360.19,259.59 L360.25,258.65 L360.30,258.13 L360.36,258.40 L360.42,258.98 L360.48,257.75 L360.53,256.48 L360.59,256.38 L360.65,255.98 L360.71,254.68 L360.77,253.89 L360.82,253.75 L360.88,254.07 L360.94,252.57 L361.00,251.68 L361.05,252.17 L361.11,250.88 L361.17,251.01 L361.23,251.07 L361.28,250.53 L361.34,249.31 L361.40,249.18 L361.43,249.62 L361.46,250.59 L361.49,250.41 L361.52,252.04 L361.55,250.96 L361.58,251.76 L361.61,252.55 L361.64,253.95 L361.67,253.69 L361.70,254.66 L361.73,254.53 L361.76,255.70 L361.79,257.33 L361.82,256.76 L361.85,257.31 L361.88,256.75 L361.91,258.14 L361.94,259.30 L361.97,259.23 L362.00,258.47 L362.03,259.47 L362.06,260.82 L362.09,261.73 L362.12,262.21 L362.15,260.61 L362.18,260.84 L362.21,262.83 L362.24,262.05 L362.27,263.68 L362.30,265.38 L362.33,265.63 L362.36,266.25 L362.40,265.66 L362.43,264.83 L362.46,265.46 L362.49,265.93 L362.53,266.52 L362.56,267.63 L362.59,267.78 L362.62,268.33 L362.65,269.02 L362.69,269.26 L362.72,271.06 L362.75,271.14 L362.78,271.11 L362.82,271.07 L362.85,270.92 L362.88,272.59 L362.91,272.77 L362.95,272.11 L362.98,272.35 L363.01,273.03 L363.04,273.36 L363.07,274.95 L363.11,274.25 L363.14,275.38 L363.17,275.93 L363.20,275.39 L363.24,276.26 L363.27,276.84 L363.30,277.82 L363.33,276.92 L363.36,276.81 L363.39,274.99 L363.42,274.25 L363.45,275.11 L363.47,275.58 L363.50,274.81 L363.53,273.72 L363.56,274.24 L363.59,271.82 L363.62,271.31 L363.65,271.98 L363.68,272.13 L363.71,270.69 L363.74,269.01 L363.76,270.52 L363.79,270.12 L363.82,268.88 L363.85,268.74 L363.88,269.12 L363.91,266.38 L363.94,267.58 L363.97,267.75 L364.00,265.42 L364.03,266.18 L364.05,264.38 L364.08,265.49 L364.11,265.32 L364.14,266.48 L364.17,264.66 L364.20,263.94 L364.24,265.08 L364.27,264.58 L364.31,264.47 L364.35,264.88 L364.39,265.56 L364.43,265.34 L364.46,266.66 L364.50,267.65 L364.54,268.03 L364.57,269.73 L364.61,269.28 L364.65,270.53 L364.69,269.97 L364.73,270.89 L364.76,269.49 L364.80,270.61 L364.84,271.15 L364.88,271.40 L364.91,271.65 L364.95,272.21 L364.99,272.44 L365.03,271.77 L365.06,272.71 L365.10,273.47 L365.40,274.02 L365.70,274.06 L366.00,274.97 L366.30,276.36 L366.60,276.47 L366.64,276.59 L366.68,278.32 L366.72,279.17 L366.76,279.80 L366.80,280.54 L366.84,279.97 L366.88,280.02 L366.92,281.23 L366.95,280.79 L366.99,281.09 L367.03,281.85 L367.07,282.47 L367.11,282.50 L367.15,283.71 L367.19,283.67 L367.23,284.56 L367.27,285.52 L367.31,285.93 L367.35,286.42 L367.39,285.40 L367.43,284.92 L367.47,285.41 L367.51,286.74 L367.55,288.48 L367.58,287.50 L367.62,288.37 L367.66,288.13 L367.70,288.30 L367.74,288.96 L367.78,290.29 L367.82,290.84 L367.86,292.11 L367.90,291.31 L367.96,291.63 L368.01,291.63 L368.07,290.75 L368.12,290.38 L368.18,289.14 L368.24,287.84 L368.29,287.46 L368.35,286.85 L368.41,289.09 L368.46,287.46 L368.52,288.03 L368.57,287.00 L368.63,286.31 L368.69,286.06 L368.74,284.52 L368.80,284.80 L368.86,285.24 L368.93,284.21 L368.99,285.51 L369.05,286.40 L369.11,287.02 L369.18,288.45 L369.24,287.88 L369.30,288.50 L369.36,289.24 L369.43,288.55 L369.49,290.04 L369.55,288.98 L369.61,288.72 L369.68,290.22 L369.74,289.98 L369.80,290.83 L369.86,290.30 L369.93,291.56 L369.99,291.52 L370.05,292.87 L370.11,292.34 L370.18,293.82 L370.24,294.28 L370.30,295.00 L370.30,295.49 L370.31,296.13 L370.31,295.54 L370.32,294.93 L370.32,296.36 L370.32,296.59 L370.33,297.30 L370.33,298.60 L370.34,297.61 L370.34,298.24 L370.35,298.91 L370.35,299.14 L370.35,300.56 L370.36,301.17 L370.36,301.19 L370.37,301.27 L370.37,302.93 L370.38,302.90 L370.38,304.07 L370.38,304.81 L370.39,303.58 L370.39,303.74 L370.40,304.90 L370.40,306.00 L370.45,307.17 L370.49,308.04 L370.54,308.90 L370.58,308.48 L370.63,308.58 L370.67,309.62 L370.72,309.46 L370.77,310.74 L370.81,309.58 L370.86,310.91 L370.90,311.20 L370.95,310.15 L371.00,312.10 L371.04,312.86 L371.09,313.26 L371.13,312.82 L371.18,313.27 L371.23,315.28 L371.27,314.75 L371.32,313.35 L371.36,314.08 L371.41,314.42 L371.45,315.66 L371.50,316.34 L371.53,316.52 L371.56,316.89 L371.59,318.78 L371.62,318.08 L371.65,320.57 L371.68,320.19 L371.70,319.76 L371.73,321.21 L371.76,322.04 L371.79,321.44 L371.82,322.73 L371.85,321.62 L371.88,321.93 L371.91,323.93 L371.94,324.15 L371.97,323.66 L372.00,325.03 L372.02,326.31 L372.05,326.48 L372.08,325.39 L372.11,326.14 L372.14,327.37 L372.17,328.53 L372.20,330.23 L372.34,329.72 L372.48,329.46 L372.61,329.88 L372.75,331.29 L372.89,330.59 L373.02,332.18 L373.16,330.07 L373.30,331.91 L373.32,331.96 L373.34,333.09 L373.36,334.09 L373.38,333.38 L373.40,334.05 L373.42,334.88 L373.44,335.82 L373.46,335.34 L373.48,335.23 L373.50,334.64 L373.51,338.04 L373.53,337.96 L373.55,338.10 L373.57,337.37 L373.59,339.09 L373.61,339.08 L373.63,340.84 L373.65,341.55 L373.67,341.48 L373.69,342.21 L373.71,341.37 L373.73,341.73 L373.75,341.93 L373.77,341.70 L373.79,342.79 L373.81,343.47 L373.83,345.29 L373.85,342.80 L373.87,343.67 L373.89,344.16 L373.90,344.99 L373.92,346.35 L373.94,347.29 L373.96,347.71 L373.98,347.75 L374.00,348.74 L374.02,349.38 L374.04,348.21 L374.06,349.01 L374.08,348.78 L374.10,349.01 L374.12,350.38 L374.14,351.27 L374.15,352.01 L374.17,351.84 L374.19,352.48 L374.21,352.47 L374.23,353.69 L374.25,354.81 L374.26,356.46 L374.28,357.19 L374.30,356.16 L374.32,356.08 L374.34,355.85 L374.35,356.91 L374.37,359.02 L374.39,359.38 L374.41,357.49 L374.43,357.39 L374.45,357.52 L374.46,359.21 L374.48,359.94 L374.50,360.78 L374.52,362.62 L374.54,361.77 L374.55,361.49 L374.57,363.76 L374.59,363.93 L374.61,363.35 L374.63,362.24 L374.65,362.25 L374.66,362.70 L374.68,364.15 L374.70,365.13 L374.72,365.72 L374.73,364.94 L374.75,363.88 L374.76,363.05 L374.78,364.48 L374.79,362.17 L374.81,362.22 L374.82,361.93 L374.84,362.04 L374.85,361.09 L374.87,361.07 L374.88,361.11 L374.90,360.17 L374.91,359.21 L374.93,358.69 L374.94,357.58 L374.96,357.37 L374.97,356.97 L374.99,356.96 L375.00,357.63 L375.02,357.78 L375.03,356.27 L375.05,356.07 L375.06,355.51 L375.08,355.37 L375.09,354.50 L375.11,354.02 L375.12,352.97 L375.14,351.94 L375.15,352.47 L375.17,352.90 L375.18,352.43 L375.20,351.79 L375.22,351.10 L375.23,349.95 L375.25,348.06 L375.27,348.75 L375.28,348.55 L375.30,347.65 L375.31,346.62 L375.33,347.62 L375.35,345.54 L375.36,346.99 L375.38,346.71 L375.40,347.44 L375.41,345.47 L375.43,344.74 L375.44,343.74 L375.46,343.51 L375.48,342.90 L375.49,341.93 L375.51,342.62 L375.53,341.34 L375.54,340.65 L375.56,340.90 L375.58,339.97 L375.59,339.34 L375.61,339.40 L375.62,338.67 L375.64,337.37 L375.66,337.35 L375.67,337.04 L375.69,338.18 L375.71,336.40 L375.72,336.84 L375.74,335.49 L375.76,334.89 L375.77,334.37 L375.79,334.36 L375.80,334.61 L375.82,335.24 L375.84,333.50 L375.85,333.89 L375.87,333.64 L375.89,333.15 L375.90,331.44 L375.92,331.60 L375.93,330.69 L375.95,330.35 L375.97,329.46 L375.98,329.51 L376.00,329.68 L376.04,330.49 L376.09,330.08 L376.13,331.00 L376.18,332.07 L376.22,330.98 L376.26,332.48 L376.31,331.30 L376.35,332.32 L376.40,333.13 L376.44,334.48 L376.48,334.47 L376.53,334.07 L376.57,333.80 L376.62,333.50 L376.66,335.12 L376.70,335.43 L376.75,335.42 L376.79,336.60 L376.84,336.43 L376.88,336.80 L376.92,337.18 L376.97,339.26 L377.01,340.45 L377.06,340.03 L377.10,338.89 L377.12,339.02 L377.14,338.73 L377.16,338.58 L377.18,338.47 L377.21,337.51 L377.23,337.75 L377.25,337.62 L377.27,336.85 L377.29,335.73 L377.31,334.86 L377.33,335.10 L377.35,333.62 L377.38,333.34 L377.40,332.52 L377.42,331.36 L377.44,332.09 L377.46,331.79 L377.48,331.47 L377.50,331.75 L377.52,329.84 L377.55,329.71 L377.57,329.71 L377.59,329.94 L377.61,328.35 L377.63,328.70 L377.65,328.29 L377.67,328.76 L377.69,328.64 L377.72,327.91 L377.74,328.25 L377.76,326.86 L377.78,325.55 L377.80,324.70 L377.84,323.55 L377.88,323.44 L377.91,321.71 L377.95,321.97 L377.99,322.32 L378.03,322.75 L378.07,321.73 L378.10,322.33 L378.14,320.85 L378.18,320.24 L378.22,318.33 L378.26,317.95 L378.29,317.52 L378.33,318.85 L378.37,318.64 L378.41,317.06 L378.44,317.25 L378.48,317.11 L378.52,316.28 L378.56,315.82 L378.60,315.11 L378.63,314.33 L378.67,312.76 L378.71,312.98 L378.75,313.96 L378.79,314.40 L378.82,313.13 L378.86,311.87 L378.90,311.38 L378.98,311.75 L379.06,311.33 L379.14,310.17 L379.22,310.05 L379.31,309.34 L379.39,309.29 L379.47,308.35 L379.55,306.81 L379.63,306.93 L379.71,307.32 L379.79,305.90 L379.88,305.67 L379.96,306.10 L380.04,305.16 L380.12,304.23 L380.20,305.57 L380.58,305.25 L380.96,305.06 L381.34,303.27 L381.72,304.09 L382.10,301.85 L382.15,302.17 L382.19,303.51 L382.24,304.92 L382.28,304.16 L382.33,304.16 L382.37,305.03 L382.42,304.09 L382.46,305.75 L382.50,306.81 L382.55,306.83 L382.60,307.81 L382.64,308.73 L382.69,309.10 L382.73,309.67 L382.77,310.95 L382.82,310.34 L382.87,310.70 L382.91,310.59 L382.95,311.93 L383.00,311.77 L383.19,311.64 L383.38,311.10 L383.56,310.54 L383.75,311.29 L383.94,310.11 L384.12,310.41 L384.31,309.91 L384.50,309.80 L384.55,309.31 L384.60,310.08 L384.66,310.57 L384.71,310.00 L384.76,310.56 L384.81,310.77 L384.86,311.15 L384.92,312.58 L384.97,312.03 L385.02,311.20 L385.07,310.90 L385.12,311.92 L385.18,312.53 L385.23,313.57 L385.28,314.76 L385.33,316.53 L385.38,316.60 L385.44,316.96 L385.49,316.45 L385.54,317.36 L385.59,318.66 L385.64,319.56 L385.70,317.76 L385.75,319.13 L385.80,320.61 L385.91,321.07 L386.02,319.77 L386.12,320.17 L386.23,321.27 L386.34,321.96 L386.45,321.62 L386.56,321.58 L386.67,323.18 L386.78,322.52 L386.88,324.47 L386.99,324.68 L387.10,325.22 L387.18,323.55 L387.25,322.99 L387.33,323.44 L387.40,321.85 L387.48,323.44 L387.55,321.48 L387.62,320.33 L387.70,320.44 L387.78,320.63 L387.85,320.71 L387.93,319.71 L388.00,319.08 L388.08,318.50 L388.15,317.71 L388.23,315.72 L388.30,316.93 L388.38,316.85 L388.45,316.53 L388.53,315.54 L388.60,315.46 L388.66,315.02 L388.72,314.53 L388.78,314.95 L388.84,312.84 L388.90,312.97 L388.96,311.85 L389.02,311.59 L389.08,312.63 L389.14,311.04 L389.20,310.71 L389.26,309.95 L389.32,310.50 L389.38,309.14 L389.44,307.66 L389.50,308.31 L389.56,307.80 L389.62,307.35 L389.68,307.96 L389.74,306.61 L389.80,306.05 L389.86,305.93 L389.92,305.87 L389.98,304.93 L390.04,305.38 L390.10,306.34 L390.17,304.65 L390.23,305.23 L390.30,302.33 L390.36,303.19 L390.43,302.13 L390.49,301.70 L390.56,300.89 L390.62,300.01 L390.69,298.84 L390.75,298.65 L390.81,299.61 L390.88,299.82 L390.94,298.60 L391.01,297.58 L391.07,296.68 L391.14,295.60 L391.20,297.06 L391.27,296.80 L391.33,296.03 L391.40,294.94 L391.45,293.73 L391.50,294.62 L391.54,294.50 L391.59,292.92 L391.64,293.30 L391.69,291.72 L391.74,291.97 L391.78,290.68 L391.83,290.18 L391.88,290.38 L391.93,290.23 L391.98,290.38 L392.02,288.86 L392.07,289.64 L392.12,289.68 L392.17,288.47 L392.22,287.96 L392.26,286.52 L392.31,286.00 L392.36,284.62 L392.41,284.72 L392.46,284.65 L392.50,285.26 L392.55,285.10 L392.60,284.69 L392.73,283.37 L392.86,282.54 L392.99,281.79 L393.11,281.59 L393.24,279.65 L393.37,280.41 L393.50,278.85 L393.63,278.58 L393.76,278.63 L393.89,278.04 L394.01,279.16 L394.14,278.23 L394.27,278.77 L394.40,278.56 L394.67,277.04 L394.94,276.70 L395.21,277.01 L395.49,275.77 L395.76,275.22 L396.03,274.26 L396.30,274.01 L396.39,274.23 L396.47,274.87 L396.56,276.12 L396.64,277.31 L396.73,277.20 L396.81,277.40 L396.90,278.20 L396.99,277.97 L397.07,277.47 L397.16,279.03 L397.24,278.54 L397.33,279.88 L397.41,279.38 L397.50,281.42 L397.59,280.57 L397.67,281.73 L397.76,283.06 L397.84,282.13 L397.93,283.67 L398.01,282.97 L398.10,282.07 L398.13,283.67 L398.16,284.73 L398.19,284.84 L398.22,283.34 L398.25,284.59 L398.28,285.29 L398.31,285.82 L398.34,286.39 L398.37,285.77 L398.40,286.55 L398.43,288.98 L398.46,290.32 L398.49,289.82 L398.52,289.49 L398.55,290.34 L398.58,291.52 L398.62,292.12 L398.65,291.22 L398.68,291.93 L398.71,292.51 L398.74,294.01 L398.77,294.86 L398.80,295.02 L398.83,295.84 L398.86,295.27 L398.89,296.62 L398.92,296.08 L398.95,296.61 L398.98,297.50 L399.01,296.81 L399.04,296.79 L399.07,296.19 L399.10,297.51 L399.14,298.29 L399.18,298.72 L399.22,299.79 L399.26,298.61 L399.31,299.76 L399.35,300.68 L399.39,301.13 L399.43,302.38 L399.47,304.01 L399.51,303.45 L399.55,302.98 L399.59,303.18 L399.64,304.03 L399.68,305.08 L399.72,304.77 L399.76,306.21 L399.80,305.69 L399.89,306.99 L399.97,307.60 L400.06,308.16 L400.14,309.95 L400.23,309.30 L400.31,309.22 L400.40,309.86 L400.49,310.70 L400.57,309.70 L400.66,310.57 L400.74,310.48 L400.83,311.66 L400.91,313.08 L401.00,313.05 L401.09,313.12 L401.17,313.58 L401.26,311.66 L401.34,313.61 L401.43,314.73 L401.51,315.25 L401.60,315.30 L401.68,314.38 L401.75,314.07 L401.83,314.75 L401.90,313.92 L401.98,314.35 L402.05,311.41 L402.12,311.18 L402.20,311.40 L402.28,311.10 L402.35,309.48 L402.43,309.13 L402.50,310.17 L402.58,308.62 L402.65,307.78 L402.73,307.03 L402.80,306.82 L402.88,307.40 L402.95,307.47 L403.03,305.32 L403.10,306.56 L403.18,305.48 L403.26,304.68 L403.34,305.73 L403.43,304.78 L403.51,303.17 L403.59,302.53 L403.67,301.90 L403.75,301.12 L403.83,301.00 L403.91,301.64 L403.99,301.38 L404.07,299.71 L404.16,301.74 L404.24,299.79 L404.32,299.34 L404.40,298.82 L404.51,299.81 L404.62,299.74 L404.72,300.50 L404.83,302.38 L404.94,302.10 L405.05,301.27 L405.16,302.09 L405.27,301.89 L405.38,302.32 L405.48,303.19 L405.59,303.99 L405.70,304.17 L405.84,305.33 L405.98,305.39 L406.11,304.79 L406.25,306.32 L406.39,306.43 L406.52,307.89 L406.66,307.49 L406.80,308.41 L406.87,308.00 L406.93,305.29 L407.00,304.50 L407.06,304.14 L407.12,305.64 L407.19,303.76 L407.25,304.64 L407.32,305.05 L407.38,304.61 L407.45,304.30 L407.52,303.03 L407.58,302.49 L407.65,302.16 L407.71,301.92 L407.78,301.80 L407.84,300.83 L407.91,299.71 L407.97,298.99 L408.04,299.13 L408.10,297.42 L408.43,296.60 L408.75,296.58 L409.07,296.26 L409.40,296.10 L409.47,295.26 L409.55,296.42 L409.62,297.33 L409.70,298.82 L409.77,297.76 L409.85,298.65 L409.92,299.94 L410.00,300.87 L410.07,302.13 L410.15,302.92 L410.22,301.98 L410.30,302.94 L410.38,302.94 L410.45,302.80 L410.52,304.70 L410.60,304.32 L410.67,304.15 L410.75,304.60 L410.82,304.72 L410.90,306.40 L410.95,307.06 L410.99,308.41 L411.04,308.61 L411.08,308.15 L411.13,309.36 L411.17,308.95 L411.22,309.08 L411.26,309.58 L411.31,310.22 L411.35,311.66 L411.40,311.29 L411.45,312.03 L411.49,312.35 L411.54,311.81 L411.58,311.84 L411.63,312.73 L411.67,313.90 L411.72,314.69 L411.76,315.45 L411.81,315.75 L411.85,315.75 L411.90,316.62 L412.06,315.33 L412.23,314.18 L412.39,314.11 L412.55,313.05 L412.72,312.97 L412.88,312.56 L413.05,312.29 L413.21,312.33 L413.37,311.59 L413.54,311.28 L413.70,309.93 L413.91,311.26 L414.12,311.40 L414.33,312.65 L414.54,311.29 L414.76,312.05 L414.97,313.45 L415.18,312.56 L415.39,313.65 L415.60,314.79 L415.80,315.60 L416.00,315.01 L416.20,316.19 L416.40,316.96 L416.60,316.71 L416.80,318.07 L417.00,318.40 L417.20,318.81 L417.40,318.87 L417.44,319.88 L417.49,320.30 L417.53,321.52 L417.58,321.87 L417.62,321.46 L417.67,321.73 L417.71,322.95 L417.76,322.84 L417.80,323.56 L417.85,324.26 L417.89,324.31 L417.94,322.91 L417.98,324.21 L418.03,325.19 L418.07,325.87 L418.12,325.76 L418.16,327.41 L418.21,327.49 L418.25,327.36 L418.30,327.42 L418.34,328.48 L418.39,328.16 L418.43,328.25 L418.48,330.79 L418.52,331.86 L418.57,332.46 L418.61,333.22 L418.66,333.26 L418.70,331.75 L418.78,333.33 L418.87,334.44 L418.95,334.69 L419.03,333.18 L419.12,334.99 L419.20,336.29 L419.28,335.80 L419.37,336.22 L419.45,337.15 L419.53,337.21 L419.62,338.36 L419.70,338.43 L419.78,339.14 L419.87,339.28 L419.95,338.37 L420.03,338.45 L420.12,341.88 L420.20,341.77 L420.30,341.80 L420.40,341.49 L420.50,341.37 L420.60,340.41 L420.70,338.80 L420.80,338.19 L420.90,336.17 L421.00,336.19 L421.10,336.83 L421.20,334.64 L421.30,335.04 L421.40,335.54 L421.50,336.00 L421.60,334.34 L421.70,333.43 L421.80,331.80 L421.90,331.35 L422.00,332.10 L422.10,333.48 L422.19,331.59 L422.28,332.27 L422.37,331.73 L422.46,330.52 L422.55,331.71 L422.64,328.57 L422.73,328.51 L422.82,328.50 L422.91,329.76 L423.00,329.87 L423.10,329.43 L423.19,328.14 L423.28,327.88 L423.37,327.84 L423.46,326.96 L423.55,326.16 L423.64,325.11 L423.73,324.16 L423.82,322.80 L423.91,324.30 L424.00,323.08 L424.11,320.95 L424.23,321.36 L424.34,321.15 L424.45,320.98 L424.56,321.94 L424.68,320.79 L424.79,319.82 L424.90,318.72 L425.01,318.45 L425.12,317.78 L425.24,317.70 L425.35,319.45 L425.46,318.34 L425.57,316.57 L425.69,317.52 L425.80,317.02 L426.01,317.37 L426.22,317.67 L426.43,318.10 L426.64,318.42 L426.86,319.33 L427.07,319.72 L427.28,320.37 L427.49,319.50 L427.70,319.59 L427.86,318.43 L428.03,318.89 L428.19,318.85 L428.35,317.65 L428.52,317.60 L428.68,318.74 L428.85,318.31 L429.01,316.08 L429.17,315.45 L429.34,315.47 L429.50,314.77 L429.88,314.58 L430.26,314.93 L430.64,314.30 L431.02,312.70 L431.40,313.05 L431.61,312.41 L431.82,312.03 L432.03,311.12 L432.24,309.80 L432.46,309.00 L432.67,309.06 L432.88,308.36 L433.09,307.31 L433.30,308.73 L433.56,307.56 L433.81,307.07 L434.07,307.59 L434.33,305.43 L434.59,306.95 L434.84,305.98 L435.10,306.37 L435.25,305.49 L435.39,305.42 L435.54,305.03 L435.68,304.55 L435.83,302.68 L435.98,301.74 L436.12,302.12 L436.27,303.25 L436.42,302.18 L436.56,302.22 L436.71,301.77 L436.85,301.57 L437.00,301.66 L437.05,299.57 L437.09,299.57 L437.14,299.01 L437.19,298.40 L437.24,297.43 L437.28,296.74 L437.33,295.97 L437.38,295.28 L437.42,297.46 L437.47,297.83 L437.52,296.53 L437.56,296.17 L437.61,294.44 L437.66,291.99 L437.71,291.53 L437.75,292.12 L437.80,293.23 L438.06,292.58 L438.32,291.31 L438.58,291.03 L438.84,290.12 L439.10,289.15 L439.14,290.16 L439.19,290.79 L439.23,291.02 L439.28,291.30 L439.32,291.61 L439.37,292.89 L439.41,294.68 L439.46,294.63 L439.50,296.68 L439.55,295.06 L439.59,295.82 L439.64,295.34 L439.68,296.04 L439.73,296.83 L439.77,297.82 L439.82,299.00 L439.86,298.56 L439.91,297.99 L439.95,298.69 L440.00,299.65 L440.04,299.61 L440.09,301.02 L440.13,302.60 L440.18,301.29 L440.22,302.13 L440.27,303.31 L440.31,301.90 L440.36,302.96 L440.40,303.41 L440.47,302.96 L440.54,305.03 L440.61,305.53 L440.67,305.49 L440.74,306.38 L440.81,307.24 L440.88,308.01 L440.95,308.51 L441.02,308.86 L441.09,308.05 L441.16,308.39 L441.23,309.21 L441.29,307.79 L441.36,310.84 L441.43,310.80 L441.50,310.48 L441.61,309.90 L441.73,311.37 L441.84,312.22 L441.95,312.42 L442.06,312.85 L442.17,312.94 L442.29,313.29 L442.40,314.19 L442.57,314.43 L442.75,315.77 L442.92,316.06 L443.09,316.62 L443.26,317.33 L443.44,318.57 L443.61,318.93 L443.78,319.03 L443.95,318.97 L444.13,318.63 L444.30,318.99 L444.66,320.12 L445.02,320.57 L445.38,320.51 L445.74,319.93 L446.10,319.62 L446.23,321.13 L446.36,322.71 L446.49,323.28 L446.62,322.46 L446.75,323.11 L446.88,324.00 L447.01,323.83 L447.14,324.91 L447.27,325.29 L447.40,325.22 L447.47,324.16 L447.54,324.94 L447.62,324.82 L447.69,323.58 L447.76,322.60 L447.83,323.32 L447.91,323.27 L447.98,322.35 L448.05,323.10 L448.12,321.85 L448.19,320.37 L448.27,321.00 L448.34,320.15 L448.41,319.89 L448.48,319.30 L448.56,317.97 L448.63,316.89 L448.70,316.85 L448.93,318.73 L449.15,318.10 L449.38,319.76 L449.61,319.98 L449.84,319.27 L450.06,320.13 L450.29,321.02 L450.52,320.57 L450.75,319.57 L450.97,321.11 L451.20,321.03 L451.38,322.37 L451.57,321.50 L451.75,322.57 L451.94,322.84 L452.12,322.67 L452.31,323.72 L452.49,324.80 L452.68,325.04 L452.86,324.88 L453.05,326.06 L453.23,325.40 L453.42,326.98 L453.60,328.00 L453.71,328.78 L453.82,328.38 L453.93,327.55 L454.03,326.81 L454.14,326.02 L454.25,324.33 L454.36,325.33 L454.47,324.95 L454.57,323.91 L454.68,322.47 L454.79,323.48 L454.90,323.10 L454.97,321.37 L455.05,321.64 L455.12,322.51 L455.20,321.32 L455.27,320.78 L455.35,319.65 L455.42,318.66 L455.50,319.21 L455.57,320.26 L455.65,318.94 L455.72,317.83 L455.80,317.71 L455.88,316.60 L455.95,316.57 L456.02,316.42 L456.10,314.73 L456.17,313.54 L456.25,313.45 L456.32,313.88 L456.40,313.49 L456.56,313.80 L456.72,311.76 L456.89,311.86 L457.05,310.86 L457.21,310.65 L457.38,310.49 L457.54,309.21 L457.70,308.87 L457.90,307.81 L458.10,308.13 L458.30,307.27 L458.50,306.89 L458.70,307.03 L458.90,306.26 L459.10,307.03 L459.30,305.90 L459.50,306.24 L459.77,305.81 L460.04,304.39 L460.31,304.05 L460.59,303.22 L460.86,302.94 L461.13,302.67 L461.40,303.94 L461.67,302.75 L461.94,303.44 L462.21,302.78 L462.49,300.89 L462.76,298.91 L463.03,299.92 L463.30,298.26 L463.66,299.28 L464.02,299.91 L464.38,299.61 L464.74,298.82 L465.10,298.20 L465.48,298.06 L465.86,297.39 L466.24,296.67 L466.62,296.23 L467.00,296.99 L467.45,296.03 L467.90,296.16 L468.35,294.96 L468.80,294.54 L469.18,293.54 L469.56,293.72 L469.94,294.32 L470.32,294.19 L470.70,293.34 L470.83,294.36 L470.95,294.38 L471.08,295.14 L471.21,295.67 L471.33,296.37 L471.46,294.64 L471.59,294.78 L471.71,296.64 L471.84,297.18 L471.97,299.47 L472.09,299.03 L472.22,298.75 L472.35,300.34 L472.47,300.70 L472.60,302.11 L472.74,301.17 L472.88,299.91 L473.02,299.73 L473.15,298.28 L473.29,297.55 L473.43,296.88 L473.57,296.56 L473.71,296.96 L473.85,296.03 L473.98,295.93 L474.12,295.06 L474.26,295.44 L474.40,292.68 L474.52,292.88 L474.64,293.07 L474.76,292.01 L474.88,292.82 L474.99,292.44 L475.11,292.84 L475.23,292.61 L475.35,292.03 L475.47,290.90 L475.59,289.36 L475.71,288.96 L475.82,288.35 L475.94,288.35 L476.06,287.59 L476.18,289.65 L476.30,287.03 L476.39,287.51 L476.47,286.33 L476.56,285.65 L476.64,285.97 L476.73,285.24 L476.81,283.71 L476.90,283.91 L476.99,283.36 L477.07,281.44 L477.16,281.90 L477.24,281.00 L477.33,280.55 L477.41,281.03 L477.50,280.95 L477.59,280.27 L477.67,281.56 L477.76,280.74 L477.84,279.30 L477.93,278.96 L478.01,278.30 L478.10,276.16 L478.21,275.26 L478.32,274.82 L478.44,276.89 L478.55,276.12 L478.66,275.43 L478.77,274.63 L478.88,275.17 L478.99,274.55 L479.11,275.28 L479.22,274.78 L479.33,274.96 L479.44,273.53 L479.55,272.91 L479.66,271.76 L479.78,271.13 L479.89,269.40 L480.00,269.12 L480.09,268.48 L480.18,268.16 L480.27,269.21 L480.36,268.86 L480.45,269.20 L480.54,268.91 L480.63,268.59 L480.72,268.29 L480.81,266.70 L480.90,266.69 L481.00,265.63 L481.09,264.70 L481.18,265.29 L481.27,266.15 L481.36,264.04 L481.45,264.75 L481.54,264.24 L481.63,262.50 L481.72,262.18 L481.81,261.89 L481.90,261.53 L482.01,260.56 L482.12,259.12 L482.22,259.12 L482.33,259.54 L482.44,259.51 L482.55,259.19 L482.66,259.15 L482.77,257.33 L482.88,256.84 L482.98,256.66 L483.09,256.85 L483.20,256.11 L483.41,255.83 L483.63,255.20 L483.84,256.17 L484.06,253.27 L484.27,253.14 L484.49,254.78 L484.70,253.80 L484.98,251.54 L485.26,251.61 L485.54,250.29 L485.82,249.97 L486.10,250.30 L486.27,252.25 L486.45,252.57 L486.62,253.09 L486.79,253.84 L486.96,253.82 L487.14,253.20 L487.31,253.63 L487.48,254.38 L487.65,254.53 L487.83,254.50 L488.00,254.91 L488.22,254.51 L488.43,254.85 L488.65,255.96 L488.87,256.58 L489.08,257.43 L489.30,259.14 L489.51,258.57 L489.72,257.81 L489.93,256.34 L490.14,255.41 L490.36,255.81 L490.57,254.90 L490.78,255.19 L490.99,254.02 L491.20,254.11 L491.27,254.68 L491.34,256.00 L491.42,255.88 L491.49,256.03 L491.56,256.78 L491.63,257.25 L491.70,258.95 L491.78,258.61 L491.85,258.42 L491.92,258.67 L491.99,259.62 L492.06,260.16 L492.14,261.00 L492.21,260.10 L492.28,262.73 L492.35,263.77 L492.42,263.25 L492.50,262.27 L492.57,262.97 L492.64,263.75 L492.71,262.38 L492.78,263.52 L492.86,263.23 L492.93,264.73 L493.00,266.46 L493.12,266.44 L493.24,264.29 L493.36,265.10 L493.48,264.97 L493.59,263.73 L493.71,263.49 L493.83,263.92 L493.95,262.55 L494.07,261.83 L494.19,260.81 L494.31,261.34 L494.42,258.92 L494.54,260.09 L494.66,258.71 L494.78,259.18 L494.90,257.30 L494.99,256.60 L495.07,256.27 L495.16,256.97 L495.24,255.30 L495.33,255.87 L495.41,255.04 L495.50,255.81 L495.59,254.86 L495.67,254.74 L495.76,253.97 L495.84,254.84 L495.93,253.49 L496.01,252.80 L496.10,253.75 L496.19,252.62 L496.27,252.26 L496.36,250.79 L496.44,250.49 L496.53,248.26 L496.61,248.63 L496.70,248.06 L496.85,246.91 L496.99,246.15 L497.14,247.48 L497.28,247.48 L497.43,245.81 L497.58,247.22 L497.72,245.90 L497.87,245.23 L498.02,245.13 L498.16,243.83 L498.31,242.56 L498.45,242.33 L498.60,243.47 L498.87,243.76 L499.14,241.82 L499.41,242.68 L499.69,242.09 L499.96,241.94 L500.23,241.34 L500.50,241.10 L500.70,240.53 L500.90,240.47 L501.10,240.78 L501.30,241.38 L501.50,242.65 L501.70,242.14 L501.90,244.18 L502.10,243.79 L502.30,243.80 L502.68,244.88 L503.07,245.40 L503.45,245.25 L503.83,244.76 L504.22,244.68 L504.60,244.33 L504.86,246.44 L505.11,247.73 L505.37,249.22 L505.63,249.18 L505.89,249.21 L506.14,249.73 L506.40,250.34 L506.46,249.09 L506.52,248.67 L506.58,249.60 L506.64,246.99 L506.70,245.58 L506.76,244.93 L506.82,245.68 L506.88,246.21 L506.94,245.15 L507.00,245.13 L507.06,244.37 L507.12,244.02 L507.18,242.98 L507.24,242.60 L507.30,242.21 L507.36,242.65 L507.42,243.48 L507.48,240.72 L507.54,240.77 L507.60,240.19 L507.66,240.41 L507.72,240.40 L507.78,239.98 L507.84,239.57 L507.90,237.80 L508.09,236.05 L508.27,237.43 L508.46,237.63 L508.65,235.90 L508.84,236.44 L509.02,236.05 L509.21,233.27 L509.40,234.07 L509.67,232.93 L509.94,233.76 L510.21,232.64 L510.49,231.79 L510.76,230.54 L511.03,230.68 L511.30,231.51 L511.75,230.66 L512.20,229.17 L512.65,231.28 L513.10,232.10 L513.13,232.27 L513.17,231.63 L513.20,230.98 L513.23,230.50 L513.27,232.10 L513.30,233.75 L513.33,233.07 L513.37,233.71 L513.40,234.05 L513.43,234.46 L513.47,235.47 L513.50,237.43 L513.53,236.64 L513.57,237.54 L513.60,238.42 L513.63,238.07 L513.67,238.18 L513.70,237.54 L513.73,239.23 L513.77,239.14 L513.80,239.21 L513.83,239.99 L513.87,239.93 L513.90,239.95 L513.93,240.74 L513.97,242.73 L514.00,242.74 L514.03,243.51 L514.07,242.63 L514.10,241.98 L514.13,244.68 L514.17,244.69 L514.20,244.04 L514.23,244.97 L514.27,246.23 L514.30,245.35 L514.33,245.71 L514.37,246.99 L514.40,246.99 L514.53,247.62 L514.65,247.89 L514.78,247.45 L514.91,246.35 L515.03,245.85 L515.16,244.93 L515.29,244.61 L515.41,244.58 L515.54,243.90 L515.67,244.29 L515.79,245.33 L515.92,243.54 L516.05,243.03 L516.17,242.93 L516.30,242.54 L516.43,241.42 L516.56,240.42 L516.69,240.79 L516.81,240.49 L516.94,240.03 L517.07,238.57 L517.20,238.65 L517.33,238.61 L517.46,237.63 L517.59,237.52 L517.71,238.41 L517.84,235.61 L517.97,235.75 L518.10,234.27 L518.31,233.15 L518.52,233.21 L518.73,233.65 L518.94,233.33 L519.16,232.04 L519.37,230.94 L519.58,230.82 L519.79,231.01 L520.00,230.28 L520.17,229.17 L520.35,230.84 L520.52,229.60 L520.69,229.24 L520.86,228.55 L521.04,227.96 L521.21,227.91 L521.38,227.44 L521.55,227.68 L521.73,226.25 L521.90,225.04 L522.08,226.77 L522.26,225.97 L522.44,225.96 L522.62,226.07 L522.80,225.44 L522.98,224.50 L523.16,222.56 L523.34,221.25 L523.52,222.28 L523.70,222.42 L524.08,222.28 L524.46,220.34 L524.84,218.76 L525.22,218.52 L525.60,218.12 L525.96,218.77 L526.32,218.07 L526.68,219.51 L527.04,218.45 L527.40,217.76 L527.71,218.31 L528.02,218.05 L528.34,216.81 L528.65,217.29 L528.96,218.23 L529.27,216.19 L529.59,215.65 L529.90,214.57 L530.14,213.92 L530.39,215.70 L530.63,216.93 L530.88,217.99 L531.12,218.35 L531.37,216.86 L531.61,217.75 L531.86,217.93 L532.10,217.83 L532.18,218.04 L532.25,219.79 L532.33,220.14 L532.40,222.27 L532.48,222.49 L532.56,220.99 L532.63,222.51 L532.71,223.82 L532.78,223.81 L532.86,223.05 L532.94,225.11 L533.01,224.09 L533.09,224.67 L533.16,223.79 L533.24,224.00 L533.32,224.20 L533.39,226.43 L533.47,227.92 L533.54,227.72 L533.62,227.09 L533.70,227.93 L533.77,228.93 L533.85,228.22 L533.92,228.31 L534.00,229.37 L534.09,229.89 L534.17,229.49 L534.26,229.36 L534.34,227.78 L534.43,225.99 L534.51,226.73 L534.60,225.99 L534.69,226.00 L534.77,225.61 L534.86,225.85 L534.94,224.82 L535.03,225.76 L535.11,224.99 L535.20,224.75 L535.29,224.50 L535.37,224.48 L535.46,223.78 L535.54,221.54 L535.63,220.97 L535.71,222.37 L535.80,221.87 L536.07,221.53 L536.34,221.09 L536.61,219.82 L536.89,218.92 L537.16,218.28 L537.43,219.14 L537.70,218.83 L538.15,219.71 L538.60,219.10 L539.05,219.65 L539.50,218.81 L539.62,217.68 L539.75,219.53 L539.88,219.67 L540.00,220.62 L540.12,220.60 L540.25,220.38 L540.38,220.85 L540.50,220.32 L540.62,220.19 L540.75,220.56 L540.88,221.25 L541.00,221.20 L541.12,221.43 L541.24,221.65 L541.36,222.90 L541.48,223.15 L541.59,221.70 L541.71,221.42 L541.83,220.21 L541.95,219.80 L542.07,219.04 L542.19,218.02 L542.31,217.73 L542.42,216.16 L542.54,216.57 L542.66,216.03 L542.78,214.91 L542.90,214.64 L543.24,215.08 L543.58,214.19 L543.92,214.43 L544.26,214.46 L544.60,215.07 L544.70,214.03 L544.80,214.42 L544.90,215.33 L545.00,216.81 L545.10,216.87 L545.20,217.49 L545.30,216.32 L545.40,216.57 L545.50,218.66 L545.60,218.51 L545.70,220.53 L545.80,219.61 L545.90,219.66 L546.00,218.88 L546.17,220.35 L546.35,221.06 L546.52,223.01 L546.69,222.83 L546.86,222.60 L547.04,221.77 L547.21,222.54 L547.38,223.95 L547.55,224.76 L547.73,225.77 L547.90,226.24 L548.02,226.02 L548.14,226.61 L548.26,226.81 L548.38,225.96 L548.49,228.06 L548.61,228.39 L548.73,227.67 L548.85,228.60 L548.97,229.24 L549.09,230.35 L549.21,231.52 L549.32,228.88 L549.44,230.44 L549.56,232.26 L549.68,231.54 L549.80,230.65 L549.87,232.01 L549.93,233.01 L550.00,233.77 L550.07,233.25 L550.13,233.67 L550.20,234.62 L550.27,235.77 L550.33,237.73 L550.40,237.53 L550.47,236.93 L550.53,235.42 L550.60,237.48 L550.67,237.87 L550.73,238.30 L550.80,238.06 L550.87,239.47 L550.93,238.47 L551.00,239.61 L551.07,240.45 L551.13,241.25 L551.20,242.68 L551.27,242.57 L551.33,242.86 L551.40,243.82 L551.47,242.67 L551.53,243.22 L551.60,244.00 L551.67,244.44 L551.74,243.10 L551.81,243.42 L551.88,243.06 L551.95,241.20 L552.02,239.98 L552.09,239.15 L552.16,239.72 L552.23,239.88 L552.30,240.17 L552.37,240.21 L552.44,238.95 L552.51,239.33 L552.59,239.13 L552.66,238.56 L552.73,238.04 L552.80,236.18 L552.87,236.24 L552.94,234.98 L553.01,233.96 L553.08,233.86 L553.15,233.98 L553.22,233.70 L553.29,233.12 L553.36,232.08 L553.43,232.24 L553.50,231.39 L553.63,230.19 L553.76,230.49 L553.89,231.52 L554.01,230.42 L554.14,229.09 L554.27,230.06 L554.40,230.65 L554.53,229.19 L554.66,228.24 L554.79,227.84 L554.91,229.19 L555.04,227.89 L555.17,227.64 L555.30,226.86 L555.77,225.14 L556.25,224.85 L556.73,224.70 L557.20,226.02 L557.29,226.83 L557.39,228.80 L557.48,228.48 L557.57,228.97 L557.66,229.26 L557.76,229.68 L557.85,231.83 L557.94,231.63 L558.04,232.65 L558.13,233.29 L558.22,232.36 L558.31,233.07 L558.41,232.83 L558.50,233.29 L558.58,232.87 L558.65,232.31 L558.73,231.42 L558.80,232.30 L558.88,231.15 L558.95,231.07 L559.02,231.58 L559.10,230.83 L559.17,230.52 L559.25,230.42 L559.33,229.92 L559.40,229.62 L559.48,227.09 L559.55,228.15 L559.62,227.00 L559.70,224.77 L559.77,224.20 L559.85,223.09 L559.92,223.35 L560.00,222.12 L560.48,221.86 L560.95,222.64 L561.42,222.86 L561.90,222.13 L562.13,221.82 L562.37,221.55 L562.60,221.33 L562.83,220.94 L563.07,220.34 L563.30,220.67 L563.42,219.62 L563.53,220.12 L563.65,221.10 L563.77,221.43 L563.88,221.71 L564.00,222.16 L564.12,223.12 L564.23,224.68 L564.35,224.62 L564.47,224.73 L564.58,225.49 L564.70,225.65 L564.83,224.62 L564.96,225.99 L565.09,226.44 L565.21,226.75 L565.34,228.07 L565.47,228.55 L565.60,228.54 L565.73,227.48 L565.86,227.78 L565.99,229.20 L566.11,230.09 L566.24,231.22 L566.37,231.88 L566.50,231.90 L566.59,231.48 L566.68,231.59 L566.77,232.59 L566.86,232.55 L566.95,234.23 L567.04,233.71 L567.13,233.26 L567.22,234.47 L567.31,234.09 L567.40,236.76 L567.50,236.36 L567.59,237.08 L567.68,237.53 L567.77,237.52 L567.86,236.97 L567.95,237.19 L568.04,239.25 L568.13,240.71 L568.22,242.62 L568.31,241.01 L568.40,241.91 L568.49,242.16 L568.57,243.17 L568.66,242.86 L568.74,243.85 L568.83,244.74 L568.91,245.20 L569.00,246.31 L569.09,245.85 L569.17,247.14 L569.26,246.29 L569.34,247.88 L569.43,245.48 L569.51,246.54 L569.60,246.67 L569.69,247.58 L569.77,249.09 L569.86,249.87 L569.94,250.01 L570.03,251.55 L570.11,250.09 L570.20,250.01 L570.24,252.02 L570.27,252.40 L570.31,250.93 L570.34,252.23 L570.38,251.95 L570.41,254.11 L570.45,255.24 L570.49,254.74 L570.52,256.12 L570.56,255.41 L570.59,256.62 L570.63,257.22 L570.66,257.20 L570.70,256.38 L570.74,257.04 L570.77,256.13 L570.81,257.09 L570.84,257.06 L570.88,259.42 L570.91,259.22 L570.95,258.45 L570.99,260.32 L571.02,261.39 L571.06,261.49 L571.09,263.83 L571.13,264.26 L571.16,264.15 L571.20,263.74 L571.25,262.17 L571.30,263.96 L571.35,265.53 L571.40,265.38 L571.45,264.86 L571.50,265.87 L571.55,265.35 L571.60,266.59 L571.65,268.09 L571.70,269.71 L571.75,269.82 L571.80,270.04 L571.85,270.81 L571.90,271.96 L571.95,271.44 L572.00,270.65 L572.05,270.77 L572.10,270.68 L572.14,270.22 L572.18,270.36 L572.23,270.61 L572.27,270.39 L572.31,270.01 L572.35,269.25 L572.39,269.25 L572.44,269.42 L572.48,269.20 L572.52,269.47 L572.56,268.00 L572.60,267.03 L572.65,267.82 L572.69,266.88 L572.73,266.32 L572.77,265.23 L572.81,265.45 L572.85,264.29 L572.90,262.98 L572.94,262.80 L572.98,262.20 L573.02,262.67 L573.06,261.77 L573.11,261.47 L573.15,260.84 L573.19,260.73 L573.23,259.70 L573.27,260.30 L573.32,258.43 L573.36,258.03 L573.40,257.34 L573.52,257.82 L573.65,257.39 L573.77,257.29 L573.90,256.39 L574.02,255.38 L574.15,254.29 L574.27,254.11 L574.40,253.64 L574.52,253.81 L574.65,253.75 L574.77,254.00 L574.90,253.08 L575.02,252.78 L575.15,252.59 L575.27,253.57 L575.40,254.56 L575.52,256.56 L575.65,256.49 L575.77,257.89 L575.90,258.53 L576.02,257.23 L576.15,258.50 L576.27,259.35 L576.40,260.19 L576.51,258.89 L576.61,258.74 L576.72,257.32 L576.82,256.67 L576.93,256.18 L577.04,257.11 L577.14,255.84 L577.25,255.87 L577.35,254.99 L577.46,253.69 L577.56,253.53 L577.67,253.57 L577.78,252.31 L577.88,252.49 L577.99,251.32 L578.09,250.35 L578.20,250.48 L578.58,250.14 L578.97,249.23 L579.35,248.08 L579.73,248.62 L580.12,248.95 L580.50,248.45 L580.86,249.20 L581.22,248.43 L581.58,249.68 L581.94,250.55 L582.30,251.08 L582.45,250.90 L582.59,251.54 L582.74,252.13 L582.88,253.39 L583.03,253.65 L583.18,253.96 L583.32,253.56 L583.47,254.79 L583.62,255.90 L583.76,255.39 L583.91,256.20 L584.05,256.57 L584.20,256.70 L584.38,256.01 L584.56,258.24 L584.74,256.81 L584.92,257.95 L585.10,258.24 L585.28,259.81 L585.46,259.64 L585.64,260.12 L585.82,261.05 L586.00,261.64 L586.15,261.41 L586.30,262.44 L586.45,263.00 L586.60,263.98 L586.75,263.55 L586.90,263.90 L587.05,264.02 L587.20,263.95 L587.35,264.99 L587.50,265.89 L587.65,266.49 L587.79,265.25 L587.94,264.94 L588.08,265.17 L588.23,264.11 L588.38,263.48 L588.52,262.99 L588.67,261.88 L588.82,260.84 L588.96,261.73 L589.11,261.28 L589.25,260.65 L589.40,259.19 L589.55,260.12 L589.69,261.66 L589.84,260.87 L589.98,260.84 L590.13,262.58 L590.28,263.99 L590.42,265.05 L590.57,264.18 L590.72,264.79 L590.86,264.27 L591.01,265.17 L591.15,265.17 L591.30,265.80 L591.75,267.03 L592.20,267.02 L592.65,266.67 L593.10,266.80 L593.48,266.56 L593.86,265.65 L594.24,265.56 L594.62,265.65 L595.00,266.29 L595.10,264.47 L595.20,264.35 L595.30,264.46 L595.40,266.38 L595.50,268.87 L595.60,268.69 L595.70,268.74 L595.80,269.77 L595.90,267.74 L596.00,268.61 L596.10,267.77 L596.20,269.30 L596.30,269.83 L596.40,270.34 L596.50,271.48 L596.60,271.59 L596.70,273.19 L596.80,273.40 L596.92,273.10 L597.04,274.28 L597.16,272.52 L597.27,272.42 L597.39,270.78 L597.51,271.30 L597.63,271.15 L597.75,270.22 L597.87,270.16 L597.99,270.41 L598.11,270.11 L598.23,268.71 L598.34,267.68 L598.46,267.82 L598.58,265.67 L598.70,264.96 L598.85,265.24 L598.99,265.27 L599.14,266.10 L599.28,266.08 L599.43,264.95 L599.58,264.23 L599.72,262.27 L599.87,261.88 L600.02,261.82 L600.16,261.22 L600.31,260.91 L600.45,260.98 L600.60,259.60 L600.73,259.85 L600.86,259.26 L600.99,261.42 L601.12,261.11 L601.25,260.64 L601.38,262.53 L601.51,263.01 L601.64,264.40 L601.77,264.34 L601.90,266.46 L602.03,266.74 L602.16,266.66 L602.29,266.79 L602.41,266.83 L602.54,267.84 L602.67,269.54 L602.80,268.80 L602.93,268.08 L603.06,269.20 L603.19,270.40 L603.31,269.27 L603.44,269.48 L603.57,269.57 L603.70,271.04 L603.97,271.95 L604.24,271.67 L604.51,271.39 L604.79,272.82 L605.06,271.66 L605.33,273.30 L605.60,273.76 L605.86,275.80 L606.11,276.39 L606.37,275.67 L606.63,275.69 L606.89,275.88 L607.14,275.81 L607.40,276.59 L607.48,277.93 L607.55,276.95 L607.63,277.61 L607.71,279.52 L607.78,280.19 L607.86,279.55 L607.94,279.41 L608.02,279.50 L608.09,279.17 L608.17,281.33 L608.25,281.89 L608.32,281.80 L608.40,281.39 L608.45,281.26 L608.50,280.89 L608.56,282.21 L608.61,281.03 L608.66,280.62 L608.71,280.93 L608.76,280.58 L608.81,279.52 L608.87,277.18 L608.92,278.46 L608.97,278.34 L609.02,277.26 L609.07,276.73 L609.12,275.55 L609.18,274.75 L609.23,273.64 L609.28,274.36 L609.33,274.56 L609.38,274.20 L609.43,274.26 L609.49,273.90 L609.54,273.17 L609.59,271.78 L609.64,271.95 L609.69,272.30 L609.74,271.85 L609.80,271.88 L609.85,270.35 L609.90,268.91 L609.97,269.63 L610.03,268.40 L610.10,268.16 L610.16,267.48 L610.23,267.06 L610.29,266.39 L610.36,265.61 L610.42,264.01 L610.49,265.77 L610.55,265.21 L610.62,263.05 L610.68,262.44 L610.75,261.73 L610.81,261.42 L610.88,260.32 L610.94,261.25 L611.00,262.37 L611.07,261.32 L611.13,261.30 L611.20,260.97 L611.38,259.16 L611.56,259.86 L611.74,257.79 L611.92,257.30 L612.10,257.00 L612.28,257.87 L612.46,257.26 L612.64,256.53 L612.82,255.40 L613.00,255.26 L613.38,255.76 L613.76,256.73 L614.14,257.94 L614.52,258.26 L614.90,258.04 L615.03,258.05 L615.16,259.62 L615.29,259.61 L615.41,259.65 L615.54,261.28 L615.67,262.19 L615.80,262.14 L615.93,261.81 L616.06,261.43 L616.19,262.74 L616.31,262.49 L616.44,263.66 L616.57,263.17 L616.70,263.79 L616.86,263.64 L617.02,263.16 L617.18,262.76 L617.33,262.44 L617.49,260.91 L617.65,259.86 L617.81,259.83 L617.97,261.10 L618.12,260.11 L618.28,258.74 L618.44,257.99 L618.60,257.90 L618.77,258.57 L618.95,257.39 L619.12,257.42 L619.29,256.96 L619.46,256.09 L619.64,254.97 L619.81,254.77 L619.98,254.03 L620.15,254.40 L620.33,252.64 L620.50,253.71 L620.95,254.02 L621.40,253.95 L621.85,254.52 L622.30,254.04 L622.38,251.65 L622.46,251.49 L622.54,251.49 L622.62,250.41 L622.71,249.26 L622.79,249.62 L622.87,249.66 L622.95,248.76 L623.03,248.19 L623.11,247.46 L623.19,246.80 L623.27,246.62 L623.36,247.18 L623.44,245.22 L623.52,244.90 L623.60,246.02 L623.68,245.43 L623.77,244.78 L623.85,244.73 L623.93,243.09 L624.02,241.82 L624.10,240.57 L624.18,239.87 L624.27,240.55 L624.35,241.17 L624.43,240.34 L624.52,239.47 L624.60,239.61 L624.68,239.65 L624.77,239.18 L624.85,237.06 L624.93,236.73 L625.02,235.26 L625.10,235.93 L625.48,235.34 L625.86,234.99 L626.24,236.28 L626.62,236.68 L627.00,236.08 L627.19,235.35 L627.38,234.65 L627.56,233.48 L627.75,233.04 L627.94,234.09 L628.12,232.33 L628.31,231.31 L628.50,231.18 L628.56,231.47 L628.61,231.38 L628.67,229.75 L628.73,229.30 L628.78,228.74 L628.84,227.49 L628.90,227.61 L628.95,227.04 L629.01,227.60 L629.07,227.34 L629.12,226.06 L629.18,225.82 L629.23,225.14 L629.29,224.36 L629.35,223.84 L629.40,224.54 L629.46,223.59 L629.52,221.88 L629.57,221.45 L629.63,222.22 L629.69,223.48 L629.74,221.51 L629.80,220.76 L630.00,220.21 L630.20,218.89 L630.40,219.37 L630.60,219.10 L630.80,219.02 L631.00,220.29 L631.20,218.88 L631.40,218.74 L631.60,218.50 L631.65,217.94 L631.70,217.86 L631.75,219.68 L631.80,220.24 L631.85,220.31 L631.90,219.61 L631.95,220.95 L632.00,221.62 L632.05,223.48 L632.10,224.00 L632.15,224.13 L632.20,224.00 L632.25,223.98 L632.30,223.70 L632.35,224.42 L632.40,224.97 L632.45,225.79 L632.50,226.78 L632.55,226.94 L632.60,226.58 L632.71,227.63 L632.82,228.99 L632.93,228.13 L633.04,228.82 L633.15,229.51 L633.26,230.09 L633.37,230.60 L633.48,230.64 L633.59,230.86 L633.70,232.56 L634.15,233.55 L634.60,231.82 L635.05,230.12 L635.50,231.59 L635.92,231.12 L636.35,230.86 L636.78,229.76 L637.20,230.53 L637.36,230.36 L637.53,229.71 L637.69,230.25 L637.85,231.54 L638.02,231.16 L638.18,230.69 L638.35,229.02 L638.51,228.73 L638.67,227.85 L638.84,228.09 L639.00,227.58 L639.08,226.62 L639.17,226.34 L639.25,225.02 L639.34,225.24 L639.42,225.71 L639.51,224.34 L639.59,224.09 L639.68,222.05 L639.76,222.72 L639.85,222.84 L639.93,221.25 L640.02,222.29 L640.10,221.42 L640.50,219.37 L640.90,218.34 L641.30,219.31 L641.85,219.49 L642.40,220.77 L642.72,219.64 L643.04,220.30 L643.36,221.64 L643.68,221.27 L644.00,222.27 L644.43,221.43 L644.87,221.33 L645.30,221.07 L645.42,223.05 L645.55,221.68 L645.67,222.67 L645.80,223.81 L645.92,222.78 L646.05,223.33 L646.17,225.53 L646.30,225.98 L646.34,223.37 L646.38,224.24 L646.42,223.80 L646.46,225.31 L646.50,225.56 L646.54,226.04 L646.58,226.30 L646.62,227.51 L646.66,227.81 L646.70,227.85 L646.74,228.60 L646.78,229.71 L646.82,229.56 L646.86,231.20 L646.90,230.18 L646.93,230.49 L646.97,229.83 L647.00,230.77 L647.03,229.37 L647.07,228.38 L647.10,227.11 L647.13,228.74 L647.17,228.38 L647.20,226.67 L647.23,226.10 L647.27,225.09 L647.30,226.23 L647.33,225.80 L647.37,223.48 L647.40,223.71 L647.50,224.17 L647.60,223.53 L647.70,223.33 L647.80,222.56 L647.90,222.18 L648.00,221.77 L648.10,220.64 L648.20,220.62 L648.30,220.26 L648.58,219.78 L648.87,218.84 L649.15,217.90 L649.43,218.18 L649.72,218.60 L650.00,216.18 L650.21,216.06 L650.42,217.25 L650.64,217.36 L650.85,215.99 L651.06,216.61 L651.28,214.97 L651.49,214.02 L651.70,215.39 L652.15,214.72 L652.60,214.58 L653.05,213.48 L653.50,213.43 L653.92,213.04 L654.35,213.55 L654.78,212.47 L655.20,214.02 L655.46,213.46 L655.71,212.77 L655.97,212.19 L656.23,212.73 L656.49,213.45 L656.74,212.18 L657.00,212.83 L657.42,213.27 L657.85,213.20 L658.28,212.33 L658.70,210.42 L659.00,210.72 L659.30,209.89 L659.60,209.72 L659.90,207.86 L660.20,207.89 L660.50,208.13 L660.97,207.45 L661.43,207.95 L661.90,209.23 L662.10,209.32 L662.30,208.86 L662.50,211.15 L662.70,209.12 L662.90,209.14 L663.10,210.36 L663.30,210.45 L663.50,209.39 L663.70,210.95 L664.08,211.63 L664.46,210.59 L664.84,211.58 L665.22,211.22 L665.60,211.37 L665.71,209.12 L665.83,208.84 L665.94,209.71 L666.05,210.25 L666.16,209.79 L666.27,208.38 L666.39,207.54 L666.50,206.25 L666.61,206.65 L666.73,205.29 L666.84,204.96 L666.95,202.89 L667.06,201.98 L667.17,203.78 L667.29,203.25 L667.40,202.87 L667.51,200.62 L667.62,200.85 L667.74,202.39 L667.85,200.30 L667.96,198.29 L668.07,198.67 L668.18,198.40 L668.29,198.30 L668.41,197.24 L668.52,196.38 L668.63,195.80 L668.74,196.73 L668.85,196.51 L668.96,196.86 L669.08,195.39 L669.19,195.67 L669.30,194.83 L669.47,194.60 L669.65,194.94 L669.82,194.24 L669.99,193.38 L670.16,191.70 L670.34,191.92 L670.51,192.41 L670.68,191.40 L670.85,191.09 L671.03,189.42 L671.20,188.65 L671.65,189.54 L672.10,190.61 L672.55,189.85 L673.00,188.26 L673.12,188.07 L673.24,186.84 L673.36,186.94 L673.48,188.50 L673.59,187.88 L673.71,186.99 L673.83,187.21 L673.95,186.03 L674.07,185.72 L674.19,185.24 L674.31,184.96 L674.42,183.12 L674.54,183.58 L674.66,183.75 L674.78,181.20 L674.90,180.00 L674.99,179.81 L675.09,181.35 L675.18,180.86 L675.28,180.91 L675.37,180.63 L675.47,180.54 L675.56,179.11 L675.66,178.17 L675.75,178.20 L675.85,178.19 L675.94,177.96 L676.04,177.46 L676.13,176.34 L676.23,176.76 L676.32,176.30 L676.42,176.31 L676.51,173.32 L676.61,174.23 L676.70,171.86 L676.79,172.39 L676.89,171.79 L676.98,171.86 L677.07,171.23 L677.16,170.80 L677.26,170.75 L677.35,170.63 L677.44,169.46 L677.54,167.42 L677.63,167.30 L677.72,168.04 L677.81,167.17 L677.91,167.47 L678.00,166.81 L678.38,165.87 L678.76,166.83 L679.14,167.56 L679.52,166.42 L679.90,165.67 L679.99,165.80 L680.08,163.90 L680.17,163.01 L680.26,163.88 L680.35,163.98 L680.44,162.75 L680.53,161.66 L680.62,161.73 L680.71,160.21 L680.80,159.87 L680.90,159.70 L680.99,157.89 L681.08,158.85 L681.17,159.31 L681.26,159.60 L681.35,157.62 L681.44,156.44 L681.53,155.96 L681.62,155.12 L681.71,157.07 L681.80,155.58 L681.97,155.95 L682.13,156.75 L682.30,157.57 L682.47,158.99 L682.63,157.98 L682.80,159.14 L682.97,159.41 L683.13,158.71 L683.30,159.55 L683.37,158.12 L683.44,159.49 L683.52,158.21 L683.59,158.66 L683.66,158.93 L683.73,157.38 L683.80,156.11 L683.88,156.02 L683.95,154.84 L684.02,155.51 L684.09,155.11 L684.16,153.96 L684.24,153.19 L684.31,153.66 L684.38,152.02 L684.45,153.37 L684.52,151.98 L684.60,151.47 L684.67,150.42 L684.74,151.63 L684.81,151.47 L684.88,151.56 L684.96,150.89 L685.03,149.89 L685.10,150.39 L685.29,149.64 L685.48,148.84 L685.66,148.31 L685.85,147.93 L686.04,147.15 L686.23,146.17 L686.41,144.30 L686.60,145.93 L687.08,144.22 L687.55,142.51 L688.02,142.60 L688.50,144.62 L688.76,144.90 L689.01,143.44 L689.27,143.14 L689.53,142.57 L689.79,140.54 L690.04,140.53 L690.30,140.84 L690.77,141.67 L691.25,140.15 L691.73,138.38 L692.20,138.10 L692.29,139.77 L692.39,140.70 L692.48,141.47 L692.57,142.11 L692.66,142.26 L692.76,141.77 L692.85,143.14 L692.94,144.05 L693.04,144.91 L693.13,146.11 L693.22,145.03 L693.31,143.78 L693.41,144.14 L693.50,147.23 L693.66,146.70 L693.83,147.63 L693.99,148.01 L694.15,149.00 L694.32,150.94 L694.48,150.01 L694.65,149.97 L694.81,149.80 L694.97,150.56 L695.14,151.39 L695.30,150.87 L695.43,152.58 L695.55,153.58 L695.68,153.77 L695.81,153.64 L695.93,153.66 L696.06,152.76 L696.19,154.27 L696.31,154.01 L696.44,154.43 L696.57,156.04 L696.69,155.61 L696.82,155.88 L696.95,157.31 L697.07,159.08 L697.20,158.25 L697.35,159.39 L697.49,158.83 L697.64,159.53 L697.78,160.19 L697.93,159.47 L698.08,160.97 L698.22,162.60 L698.37,162.31 L698.52,162.52 L698.66,161.69 L698.81,163.76 L698.95,163.74 L699.10,162.86 L699.19,164.19 L699.27,163.37 L699.36,163.73 L699.44,163.17 L699.53,165.64 L699.61,167.86 L699.70,167.04 L699.79,166.77 L699.87,166.88 L699.96,167.15 L700.04,168.38 L700.13,169.97 L700.21,169.10 L700.30,169.96 L700.39,168.87 L700.47,171.08 L700.56,171.23 L700.64,171.03 L700.73,172.88 L700.81,172.80 L700.90,174.12 L701.02,174.84 L701.14,175.83 L701.26,174.71 L701.38,174.98 L701.49,175.59 L701.61,175.68 L701.73,177.30 L701.85,176.63 L701.97,177.82 L702.09,178.97 L702.21,177.20 L702.32,177.21 L702.44,177.47 L702.56,178.11 L702.68,179.40 L702.80,179.88 L703.07,180.49 L703.34,180.58 L703.61,181.10 L703.89,182.02 L704.16,182.91 L704.43,182.37 L704.70,182.79 L704.76,181.82 L704.82,181.54 L704.88,180.18 L704.94,181.11 L705.00,181.19 L705.05,180.40 L705.11,179.32 L705.17,178.69 L705.23,177.97 L705.29,176.68 L705.35,178.26 L705.41,179.54 L705.47,177.16 L705.53,175.69 L705.59,176.05 L705.65,176.06 L705.70,174.14 L705.76,172.61 L705.82,173.49 L705.88,171.77 L705.94,173.31 L706.00,172.44 L706.09,172.20 L706.17,171.79 L706.26,170.91 L706.35,170.55 L706.44,170.01 L706.52,170.72 L706.61,169.85 L706.70,169.21 L706.79,168.25 L706.88,167.43 L706.96,166.69 L707.05,166.66 L707.14,167.87 L707.23,167.76 L707.31,166.79 L707.40,167.18 L707.78,167.51 L708.16,167.23 L708.54,166.95 L708.92,166.24 L709.30,167.08 L709.51,166.47 L709.72,164.96 L709.93,164.17 L710.14,166.09 L710.36,165.61 L710.57,165.38 L710.78,164.84 L710.99,163.83 L711.20,163.82 L711.65,164.75 L712.10,164.27 L712.55,164.76 L713.00,165.53 L713.27,164.24 L713.54,163.87 L713.81,162.76 L714.09,163.03 L714.36,162.24 L714.63,162.81 L714.90,161.45 L715.26,163.23 L715.62,162.80 L715.98,162.32 L716.34,162.18 L716.70,163.50 L716.91,162.42 L717.12,163.73 L717.33,163.85 L717.54,163.14 L717.76,161.03 L717.97,160.79 L718.18,159.91 L718.39,158.40 L718.60,159.14 L719.08,161.39 L719.55,160.58 L720.02,161.29 L720.50,162.16 L720.61,160.28 L720.71,159.53 L720.82,159.39 L720.93,159.26 L721.04,157.70 L721.14,157.71 L721.25,157.26 L721.36,157.63 L721.46,155.62 L721.57,155.12 L721.68,154.68 L721.79,154.38 L721.89,154.82 L722.00,153.79 L722.36,155.75 L722.72,153.95 L723.08,154.00 L723.44,154.00 L723.80,153.79 L724.27,152.73 L724.75,151.56 L725.23,151.26 L725.70,151.73 L725.79,152.14 L725.89,152.94 L725.98,153.58 L726.07,152.99 L726.16,152.84 L726.26,154.84 L726.35,154.62 L726.44,153.85 L726.54,156.35 L726.63,155.81 L726.72,155.64 L726.81,157.26 L726.91,156.70 L727.00,156.81 L727.11,158.59 L727.23,158.30 L727.34,160.98 L727.45,160.76 L727.56,162.31 L727.67,161.93 L727.79,161.87 L727.90,161.50 L728.01,161.83 L728.12,162.00 L728.24,162.68 L728.35,163.89 L728.46,163.15 L728.57,163.23 L728.69,162.74 L728.80,165.33 L728.84,165.71 L728.88,166.17 L728.92,166.59 L728.96,167.86 L729.00,168.23 L729.04,169.05 L729.08,168.90 L729.12,169.06 L729.15,169.40 L729.19,168.37 L729.23,170.33 L729.27,169.51 L729.31,169.72 L729.35,171.35 L729.39,171.97 L729.43,173.11 L729.47,174.64 L729.51,175.53 L729.55,175.98 L729.59,175.31 L729.63,176.88 L729.67,175.70 L729.71,175.87 L729.75,177.02 L729.78,176.91 L729.82,177.12 L729.86,177.26 L729.90,178.89 L729.94,176.97 L729.98,179.07 L730.02,180.25 L730.06,180.22 L730.10,180.90 L730.14,180.27 L730.18,181.77 L730.22,183.66 L730.27,182.44 L730.31,183.80 L730.35,183.60 L730.39,183.48 L730.43,183.49 L730.47,183.94 L730.51,183.55 L730.56,183.46 L730.60,185.99 L730.64,186.26 L730.68,187.06 L730.72,187.52 L730.76,188.10 L730.80,187.05 L730.84,187.13 L730.89,188.62 L730.93,189.93 L730.97,189.17 L731.01,189.40 L731.05,189.34 L731.09,190.87 L731.13,191.67 L731.18,192.07 L731.22,191.95 L731.26,192.87 L731.30,193.34 L731.36,193.20 L731.41,194.18 L731.47,194.14 L731.52,195.60 L731.58,196.35 L731.64,195.94 L731.69,196.93 L731.75,197.27 L731.81,197.05 L731.86,196.98 L731.92,196.56 L731.98,196.95 L732.03,198.54 L732.09,200.30 L732.14,200.03 L732.20,200.71 L732.23,200.51 L732.26,200.54 L732.30,200.08 L732.33,200.23 L732.36,199.75 L732.39,198.07 L732.43,197.85 L732.46,195.36 L732.49,195.49 L732.52,195.50 L732.55,195.74 L732.59,194.97 L732.62,195.24 L732.65,195.55 L732.68,193.82 L732.71,192.89 L732.75,192.80 L732.78,192.73 L732.81,192.20 L732.84,192.25 L732.88,190.48 L732.91,190.84 L732.94,191.13 L732.97,191.04 L733.00,190.25 L733.04,189.08 L733.07,188.72 L733.10,187.95 L733.16,186.12 L733.23,185.68 L733.30,185.67 L733.36,185.09 L733.42,184.23 L733.49,184.10 L733.55,183.70 L733.62,183.63 L733.68,183.28 L733.75,183.06 L733.82,183.37 L733.88,182.66 L733.94,182.27 L734.01,180.57 L734.08,178.62 L734.14,178.79 L734.20,179.52 L734.27,178.91 L734.34,178.14 L734.40,177.03 L734.61,177.94 L734.82,177.13 L735.03,177.12 L735.24,177.62 L735.46,177.24 L735.67,178.03 L735.88,176.57 L736.09,176.44 L736.30,175.98 L736.56,174.49 L736.81,174.04 L737.07,173.13 L737.33,172.09 L737.59,172.38 L737.84,171.51 L738.10,172.79 L738.21,172.26 L738.32,172.34 L738.42,173.08 L738.53,173.22 L738.64,173.95 L738.75,174.04 L738.86,173.65 L738.97,173.47 L739.08,173.93 L739.18,176.53 L739.29,177.32 L739.40,177.73 L739.47,176.75 L739.54,176.26 L739.60,176.13 L739.67,174.52 L739.74,173.89 L739.81,173.26 L739.88,174.40 L739.95,172.99 L740.01,173.77 L740.08,172.69 L740.15,174.40 L740.22,172.93 L740.29,172.00 L740.35,172.32 L740.42,171.91 L740.49,171.53 L740.56,169.53 L740.63,169.95 L740.70,170.41 L740.76,169.05 L740.83,167.79 L740.90,166.41 L741.38,167.34 L741.85,167.18 L742.32,166.77 L742.80,165.46 L742.89,167.58 L742.99,168.36 L743.08,168.30 L743.17,169.65 L743.27,168.69 L743.36,169.81 L743.46,169.16 L743.55,170.90 L743.64,170.74 L743.74,172.04 L743.83,171.67 L743.92,172.32 L744.02,173.47 L744.11,172.70 L744.21,173.27 L744.30,173.06 L744.39,173.58 L744.49,172.52 L744.58,171.92 L744.68,171.52 L744.77,172.18 L744.87,170.61 L744.96,170.34 L745.06,169.76 L745.15,169.07 L745.25,168.30 L745.34,168.17 L745.44,168.18 L745.53,166.62 L745.63,166.96 L745.72,165.83 L745.82,165.96 L745.91,167.61 L746.01,165.77 L746.10,165.26 L746.48,164.78 L746.87,165.35 L747.25,164.38 L747.63,162.69 L748.02,161.75 L748.40,162.51 L748.54,162.73 L748.68,163.29 L748.82,162.14 L748.95,162.27 L749.09,160.78 L749.23,161.62 L749.37,160.82 L749.51,159.70 L749.65,159.57 L749.78,160.54 L749.92,158.83 L750.06,157.39 L750.20,156.59 L750.37,155.85 L750.55,156.13 L750.72,156.41 L750.89,155.97 L751.06,155.82 L751.24,156.33 L751.41,155.26 L751.58,153.73 L751.75,152.04 L751.93,152.75 L752.10,152.23 L752.25,152.09 L752.39,152.33 L752.54,152.31 L752.68,150.51 L752.83,149.81 L752.98,150.04 L753.12,149.80 L753.27,150.49 L753.42,149.38 L753.56,147.34 L753.71,148.58 L753.85,146.85 L754.00,146.23 L753.57,147.37 L753.13,146.92 L752.70,149.55 L753.00,148.74 L753.30,148.35 L753.60,147.20 L753.90,148.48 L754.20,147.69 L754.50,146.09 L754.80,146.58 L755.10,144.36 L755.40,143.83 L755.70,144.06 L755.86,143.85 L756.03,142.69 L756.19,143.86 L756.36,144.22 L756.52,142.34 L756.69,142.15 L756.85,141.06 L757.01,140.43 L757.18,141.01 L757.34,140.46 L757.51,139.79 L757.67,139.39 L757.84,137.98 L758.00,138.90 L758.40,137.86 L758.80,138.81 L759.20,137.83 L759.60,137.20 L759.90,138.87 L760.20,138.93 L760.50,138.47 L760.80,138.46 L761.10,139.52 L761.40,141.26 L761.70,141.39 L762.00,140.84 L762.32,140.09 L762.63,140.18 L762.95,140.82 L763.27,141.61 L763.58,141.48 L763.90,143.09 L764.12,141.58 L764.34,140.74 L764.57,141.04 L764.79,140.98 L765.01,140.07 L765.23,140.43 L765.46,138.56 L765.68,139.73 L765.90,140.50 L766.11,140.09 L766.32,138.83 L766.52,139.28 L766.73,137.96 L766.94,138.06 L767.15,136.73 L767.36,136.12 L767.57,135.87 L767.77,133.75 L767.98,133.62 L768.19,134.88 L768.40,131.73 L768.62,132.40 L768.84,132.99 L769.07,132.65 L769.29,132.17 L769.51,132.65 L769.73,131.89 L769.96,129.52 L770.18,128.77 L770.40,128.67 L770.58,128.76 L770.76,128.14 L770.95,127.87 L771.13,128.91 L771.31,125.67 L771.49,126.90 L771.67,127.20 L771.85,126.91 L772.04,126.08 L772.22,125.47 L772.40,125.16 L772.61,124.71 L772.82,123.51 L773.03,123.84 L773.24,122.56 L773.46,122.28 L773.67,121.68 L773.88,120.53 L774.09,121.08 L774.30,120.66 L774.80,120.06 L775.30,120.69 L775.80,120.13 L776.30,122.15 L776.42,122.89 L776.55,124.67 L776.67,123.86 L776.80,124.63 L776.92,123.96 L777.05,123.90 L777.17,124.69 L777.30,125.74 L777.45,125.99 L777.59,124.99 L777.74,125.32 L777.88,125.18 L778.03,123.46 L778.18,122.85 L778.32,121.73 L778.47,122.97 L778.62,121.68 L778.76,121.89 L778.91,121.83 L779.05,120.67 L779.20,119.65 L779.38,119.54 L779.56,118.40 L779.75,117.19 L779.93,116.56 L780.11,117.04 L780.29,116.98 L780.47,117.99 L780.65,115.52 L780.84,115.79 L781.02,114.44 L781.20,115.31 L781.50,115.27 L781.80,114.62 L782.10,115.14 L782.40,113.80 L782.70,112.76 L782.73,112.46 L782.76,112.80 L782.79,113.81 L782.81,115.00 L782.84,116.34 L782.87,116.07 L782.90,115.76 L782.93,116.11 L782.96,116.43 L782.99,116.78 L783.01,117.24 L783.04,117.32 L783.07,118.22 L783.10,118.55 L783.13,119.21 L783.16,118.83 L783.19,120.02 L783.21,121.22 L783.24,122.14 L783.27,121.92 L783.30,121.54 L783.33,121.41 L783.36,121.65 L783.39,122.40 L783.41,123.28 L783.44,122.82 L783.47,124.69 L783.50,124.19 L783.56,123.87 L783.61,123.45 L783.67,124.22 L783.73,125.23 L783.79,123.86 L783.84,122.96 L783.90,122.16 L783.96,121.66 L784.01,121.20 L784.07,122.79 L784.13,120.69 L784.19,120.08 L784.24,119.01 L784.30,119.10 L784.36,118.26 L784.41,118.44 L784.47,117.04 L784.53,118.55 L784.59,117.68 L784.64,115.45 L784.70,115.94 L784.83,115.11 L784.95,113.92 L785.08,114.31 L785.21,113.57 L785.34,113.95 L785.46,112.95 L785.59,113.34 L785.72,112.76 L785.85,112.40 L785.97,111.85 L786.10,110.94 L786.19,110.22 L786.29,110.26 L786.38,110.27 L786.47,109.20 L786.57,110.46 L786.66,110.34 L786.75,108.04 L786.85,108.31 L786.94,107.35 L787.03,106.85 L787.13,105.58 L787.22,106.57 L787.31,104.98 L787.41,104.47 L787.50,103.49 L787.60,104.82 L787.70,104.81 L787.80,102.60 L787.90,101.86 L788.00,101.88 L788.10,101.07 L788.20,100.48 L788.30,99.39 L788.40,99.62 L788.50,98.50 L788.60,99.17 L788.70,100.56 L788.80,99.00 L788.90,99.46 L789.00,98.53 L789.18,97.01 L789.36,96.23 L789.53,95.12 L789.71,95.15 L789.89,95.42 L790.07,95.54 L790.24,94.47 L790.42,92.97 L790.60,92.82 L791.07,94.34 L791.53,94.09 L792.00,93.68 L792.10,92.36 L792.20,93.10 L792.30,94.48 L792.40,94.28 L792.50,96.16 L792.60,95.91 L792.70,95.74 L792.80,96.08 L792.90,96.84 L793.00,98.32 L793.10,98.12 L793.20,97.27 L793.30,98.33 L793.39,99.59 L793.49,101.28 L793.58,100.36 L793.68,102.08 L793.77,102.61 L793.86,102.94 L793.96,102.38 L794.05,102.20 L794.15,102.25 L794.24,103.95 L794.34,104.54 L794.43,105.73 L794.52,107.17 L794.62,106.79 L794.71,106.73 L794.81,108.43 L794.90,107.07 L795.01,107.19 L795.12,107.51 L795.23,107.88 L795.34,108.69 L795.45,108.58 L795.55,110.26 L795.66,109.44 L795.77,109.60 L795.88,109.22 L795.99,109.45 L796.10,111.30 L796.25,111.66 L796.41,111.02 L796.56,111.27 L796.72,111.03 L796.87,109.77 L797.03,109.30 L797.18,109.15 L797.34,110.14 L797.49,108.59 L797.65,108.16 L797.80,107.86 L798.05,108.09 L798.30,107.43 L798.55,107.40 L798.80,105.56 L799.05,105.00 L799.30,103.23 L799.55,103.55 L799.80,105.40 L799.91,104.55 L800.02,103.76 L800.12,103.26 L800.23,102.68 L800.34,101.03 L800.45,100.40 L800.55,100.26 L800.66,100.23 L800.77,99.22 L800.88,99.04 L800.98,98.26 L801.09,97.17 L801.20,96.88 L801.32,96.40 L801.43,97.22 L801.55,97.85 L801.66,97.41 L801.78,96.35 L801.89,95.31 L802.01,93.74 L802.12,93.50 L802.24,94.77 L802.35,94.95 L802.47,94.14 L802.58,93.13 L802.70,92.56 L802.85,92.37 L802.99,91.73 L803.14,91.52 L803.28,90.27 L803.43,90.02 L803.57,89.37 L803.72,89.92 L803.86,88.23 L804.01,89.06 L804.15,88.25 L804.30,87.28 L804.52,86.95 L804.74,86.65 L804.97,86.01 L805.19,85.97 L805.41,84.97 L805.63,83.37 L805.86,84.12 L806.08,83.78 L806.30,84.70 L806.36,84.93 L806.42,83.41 L806.48,85.29 L806.54,85.05 L806.59,86.08 L806.65,88.15 L806.71,88.62 L806.77,87.40 L806.83,87.72 L806.89,86.92 L806.95,88.46 L807.01,89.43 L807.06,88.95 L807.12,90.03 L807.18,91.21 L807.24,91.97 L807.30,91.46 L807.35,90.43 L807.39,89.33 L807.44,88.37 L807.49,88.88 L807.54,88.73 L807.58,89.42 L807.63,88.79 L807.68,87.78 L807.73,86.15 L807.77,87.34 L807.82,86.72 L807.87,86.02 L807.92,84.67 L807.96,83.69 L808.01,84.23 L808.06,83.09 L808.11,83.44 L808.15,83.46 L808.20,82.47 L808.31,80.80 L808.42,81.24 L808.52,82.04 L808.63,80.56 L808.74,79.22 L808.85,80.09 L808.95,79.64 L809.06,78.59 L809.17,79.25 L809.28,78.24 L809.38,78.06 L809.49,77.09 L809.60,76.70" fill="none" stroke="#000" stroke-width="3.2" stroke-linejoin="round" stroke-linecap="round"/>
<path d="M207.6,236.4 L212.7,236.4 L220.7,296.6" fill="none" stroke="#000" stroke-width="1"/>
<path d="M221.3,215.6 L235.6,284.5" fill="none" stroke="#000" stroke-width="1"/>
<path d="M269.9,245.2 L264.4,287.3" fill="none" stroke="#000" stroke-width="1"/>
<path d="M316.9,271.4 L305.7,310.6" fill="none" stroke="#000" stroke-width="1"/>
<path d="M225.4,311.5 L225.4,359.8" fill="none" stroke="#000" stroke-width="1"/>
<path d="M409.4,242.2 L409.4,296.4" fill="none" stroke="#000" stroke-width="1"/>
<path d="M466.6,359.5 L458,314" fill="none" stroke="#000" stroke-width="1"/>
<path d="M509.8,187.2 L512.6,230" fill="none" stroke="#000" stroke-width="1"/>
<path d="M601.6,329.3 L607.7,329.3 L607.7,284.2" fill="none" stroke="#000" stroke-width="1"/>
<path d="M618.9,171.5 L623.4,171.5 L627,232.2" fill="none" stroke="#000" stroke-width="1"/>
<path d="M640.6,157 L644.8,221" fill="none" stroke="#000" stroke-width="1"/>
<path d="M660.7,115.2 L665.3,115.2 L681.2,156.7" fill="none" stroke="#000" stroke-width="1"/>
<path d="M688.6,106.6 L697.9,158.6" fill="none" stroke="#000" stroke-width="1"/>
<path d="M710.7,132.6 L705.3,175" fill="none" stroke="#000" stroke-width="1"/>
<path d="M769.9,85.2 L774.4,85.2 L788.9,95.2" fill="none" stroke="#000" stroke-width="1"/>
<path d="M772.9,73.3 L805.7,82.9" fill="none" stroke="#000" stroke-width="1"/>
<path d="M798.6,109 L800.5,126.7 L805.1,126.7" fill="none" stroke="#000" stroke-width="1"/>
<path d="M781.6,177.2 L757.1,147.4" fill="none" stroke="#000" stroke-width="1"/>
<path d="M719.9,207.9 L705,184.7" fill="none" stroke="#000" stroke-width="1"/>
<path d="M691.5,267.1 L686.7,267.1 L665.5,213.5" fill="none" stroke="#000" stroke-width="1"/>
<path d="M687.1,300.2 L681.2,300.2 L652.1,219.4" fill="none" stroke="#000" stroke-width="1"/>
<path d="M654.7,287.1 L641.5,223" fill="none" stroke="#000" stroke-width="1"/>
<path d="M642.5,339.2 L637.6,339.2 L610.4,273" fill="none" stroke="#000" stroke-width="1"/>
<g font-family="Liberation Sans, sans-serif" font-weight="bold" fill="#000">
<text x="154.5" y="235" font-size="11.2" text-anchor="middle">Spanish-American</text>
<text x="154" y="248.2" font-size="11.2" text-anchor="middle">War</text>
<text x="221.1" y="211.7" font-size="11.2" text-anchor="middle">Boxer Rebillion</text>
<text x="269" y="228.1" font-size="11.2" text-anchor="middle">Mexican</text>
<text x="269.4" y="240.7" font-size="11.2" text-anchor="middle">Border War</text>
<text x="316.6" y="254.9" font-size="11.2" text-anchor="middle">US Enters</text>
<text x="316.5" y="267.9" font-size="11.2" text-anchor="middle">WWI</text>
<text x="410" y="225.5" font-size="11.2" text-anchor="middle">US Enters</text>
<text x="410" y="238.8" font-size="11.2" text-anchor="middle">WWII</text>
<text x="225.3" y="372.8" font-size="11.2" text-anchor="middle">Philippine-American</text>
<text x="225.8" y="386.1" font-size="11.2" text-anchor="middle">War</text>
<text x="466.5" y="371.6" font-size="11.2" text-anchor="middle">Korean War</text>
<text x="509.6" y="169.5" font-size="11.2" text-anchor="middle">Vietnam</text>
<text x="509.6" y="183" font-size="11.2" text-anchor="middle">War</text>
<text x="553.4" y="327.5" font-size="11.2" text-anchor="middle">Intervention Into</text>
<text x="553.5" y="341" font-size="11.2" text-anchor="middle">Lebanon</text>
<text x="591" y="169" font-size="11.2" text-anchor="middle">Libya</text>
<text x="591.5" y="181.5" font-size="11.2" text-anchor="middle">Bombing</text>
<text x="640.4" y="152.9" font-size="11.2" text-anchor="middle">Gulf War</text>
<text x="636.8" y="113.8" font-size="11.2" text-anchor="middle">Kosovo</text>
<text x="636.7" y="126.6" font-size="11.2" text-anchor="middle">War</text>
<text x="689.6" y="90.2" font-size="11.2" text-anchor="middle">War In</text>
<text x="689.5" y="103.2" font-size="11.2" text-anchor="middle">Afganistan</text>
<text x="710.7" y="115.8" font-size="11.2" text-anchor="middle">Iraq</text>
<text x="710.7" y="128.5" font-size="11.2" text-anchor="middle">War</text>
<text x="745.3" y="82.7" font-size="11.2" text-anchor="middle">Russia</text>
<text x="745.7" y="95.3" font-size="11.2" text-anchor="middle">Ukraine</text>
<text x="773.5" y="69.6" font-size="11.2" text-anchor="middle">US Bombs Iran</text>
<text x="826.2" y="126.6" font-size="11.2" text-anchor="middle">Israel</text>
<text x="826.5" y="139.1" font-size="11.2" text-anchor="middle">Attack</text>
<text x="781.3" y="189.9" font-size="11.2" text-anchor="middle">Syria</text>
<text x="781" y="202.7" font-size="11.2" text-anchor="middle">Intervention</text>
<text x="719.5" y="220.5" font-size="11.2" text-anchor="middle">Yemen</text>
<text x="719.1" y="233.5" font-size="11.2" text-anchor="middle">Intervention</text>
<text x="727.2" y="264.6" font-size="11.2" text-anchor="middle">Haiti</text>
<text x="726.9" y="277.2" font-size="11.2" text-anchor="middle">Intervention</text>
<text x="713" y="297.9" font-size="11.2" text-anchor="middle">Bosnian</text>
<text x="713.1" y="311" font-size="11.2" text-anchor="middle">War</text>
<text x="654.8" y="299.8" font-size="11.2" text-anchor="middle">Panama</text>
<text x="654.5" y="312.8" font-size="11.2" text-anchor="middle">Invasion</text>
<text x="676.5" y="337.9" font-size="11.2" text-anchor="middle">Invasion Of</text>
<text x="676.5" y="351" font-size="11.2" text-anchor="middle">Grenada</text>
<text x="74.3" y="63.2" font-size="11.1" text-anchor="end">8,192.00</text>
<text x="74.3" y="112.1" font-size="11.1" text-anchor="end">4,096.00</text>
<text x="74.3" y="160.9" font-size="11.1" text-anchor="end">2,048.00</text>
<text x="74.3" y="209.8" font-size="11.1" text-anchor="end">1,024.00</text>
<text x="74.3" y="258.6" font-size="11.1" text-anchor="end">512.00</text>
<text x="74.3" y="307.5" font-size="11.1" text-anchor="end">256.00</text>
<text x="74.3" y="356.3" font-size="11.1" text-anchor="end">128.00</text>
<text x="74.3" y="405.2" font-size="11.1" text-anchor="end">64.00</text>
<text x="87.5" y="417.6" font-size="11" text-anchor="middle">Jan-1871</text>
<text x="157.5" y="417.6" font-size="11" text-anchor="middle">Jan-1886</text>
<text x="227.4" y="417.6" font-size="11" text-anchor="middle">1/1/1901</text>
<text x="297.4" y="417.6" font-size="11" text-anchor="middle">1/1/1916</text>
<text x="367.3" y="417.6" font-size="11" text-anchor="middle">1/1/1931</text>
<text x="437.3" y="417.6" font-size="11" text-anchor="middle">1/1/1946</text>
<text x="507.3" y="417.6" font-size="11" text-anchor="middle">1/1/1961</text>
<text x="577.2" y="417.6" font-size="11" text-anchor="middle">1/1/1976</text>
<text x="647.2" y="417.6" font-size="11" text-anchor="middle">1/1/1991</text>
<text x="717.1" y="417.6" font-size="11" text-anchor="middle">1/1/2006</text>
<text x="787.1" y="417.6" font-size="11" text-anchor="middle">1/1/2021</text>
<text transform="translate(22.3,230.4) rotate(-90)" font-size="11.5" text-anchor="middle">S&amp;P 500 Index</text>
<text x="8.8" y="25.2" font-size="20.4">Real S&amp;P 500 Index Vs Conflicts</text>
<text x="8.3" y="41.9" font-size="13.7" font-style="italic">(Robert Shiller Real Price Data)</text>
<rect x="136" y="433" width="21" height="6" fill="#f2f2f2"/>
<text x="159.6" y="439" font-size="11.45">Recessions</text>
<line x1="311.5" y1="435.5" x2="335" y2="435.5" stroke="#000" stroke-width="2.6"/>
<text x="336.6" y="439" font-size="11.45">S&amp;P 500 (Real Price)</text>
<line x1="537.5" y1="435" x2="561" y2="435" stroke="#000" stroke-width="1"/>
<text x="562" y="439" font-size="11.45">Expon. (S&amp;P 500 (Real Price))</text>
</g>
<defs>
<linearGradient id="lg1" x1="0" y1="0" x2="1" y2="0"><stop offset="0" stop-color="#2e2e2e"/><stop offset="0.45" stop-color="#7a7a7a"/><stop offset="1" stop-color="#d0d0d0"/></linearGradient>
<linearGradient id="lg2" x1="0" y1="0" x2="1" y2="0"><stop offset="0" stop-color="#4a4a4a"/><stop offset="1" stop-color="#9a9a9a"/></linearGradient>
</defs>
<g transform="translate(710,4) scale(0.10893)">
<path d="M75,68 C85,95 120,112 230,112 C170,135 120,148 78,150 C100,185 140,188 200,175 C150,200 120,212 97,220 C110,250 150,250 205,225 C165,255 140,270 128,285 C135,305 142,318 150,326 C160,300 185,270 215,255 C190,320 200,370 235,410 C320,365 380,290 386,225 L388,198 C405,200 418,210 420,228 C430,215 436,200 436,185 C438,165 425,150 405,140 L405,68 C280,38 140,45 75,68 Z" fill="url(#lg1)"/>
<path d="M232,398 C200,320 235,235 384,200 L384,226 C378,288 318,360 236,404 Z" fill="url(#lg2)"/>
<path d="M228,402 C196,320 232,230 386,196" fill="none" stroke="#fff" stroke-width="8"/>
<ellipse cx="275" cy="152" rx="19" ry="5.5" fill="#fff" transform="rotate(-4 275 152)"/>
</g>
<g font-family="Liberation Sans, sans-serif" font-weight="bold" fill="#333" font-size="12.3">
<text x="767.8" y="21.4" textLength="27.5" lengthAdjust="spacingAndGlyphs">Real</text>
<text x="767.8" y="34" textLength="71.5" lengthAdjust="spacingAndGlyphs">Investment</text>
<text x="767.8" y="46.2" textLength="45" lengthAdjust="spacingAndGlyphs">Advice</text>
</g>
</svg>
</body></html>
